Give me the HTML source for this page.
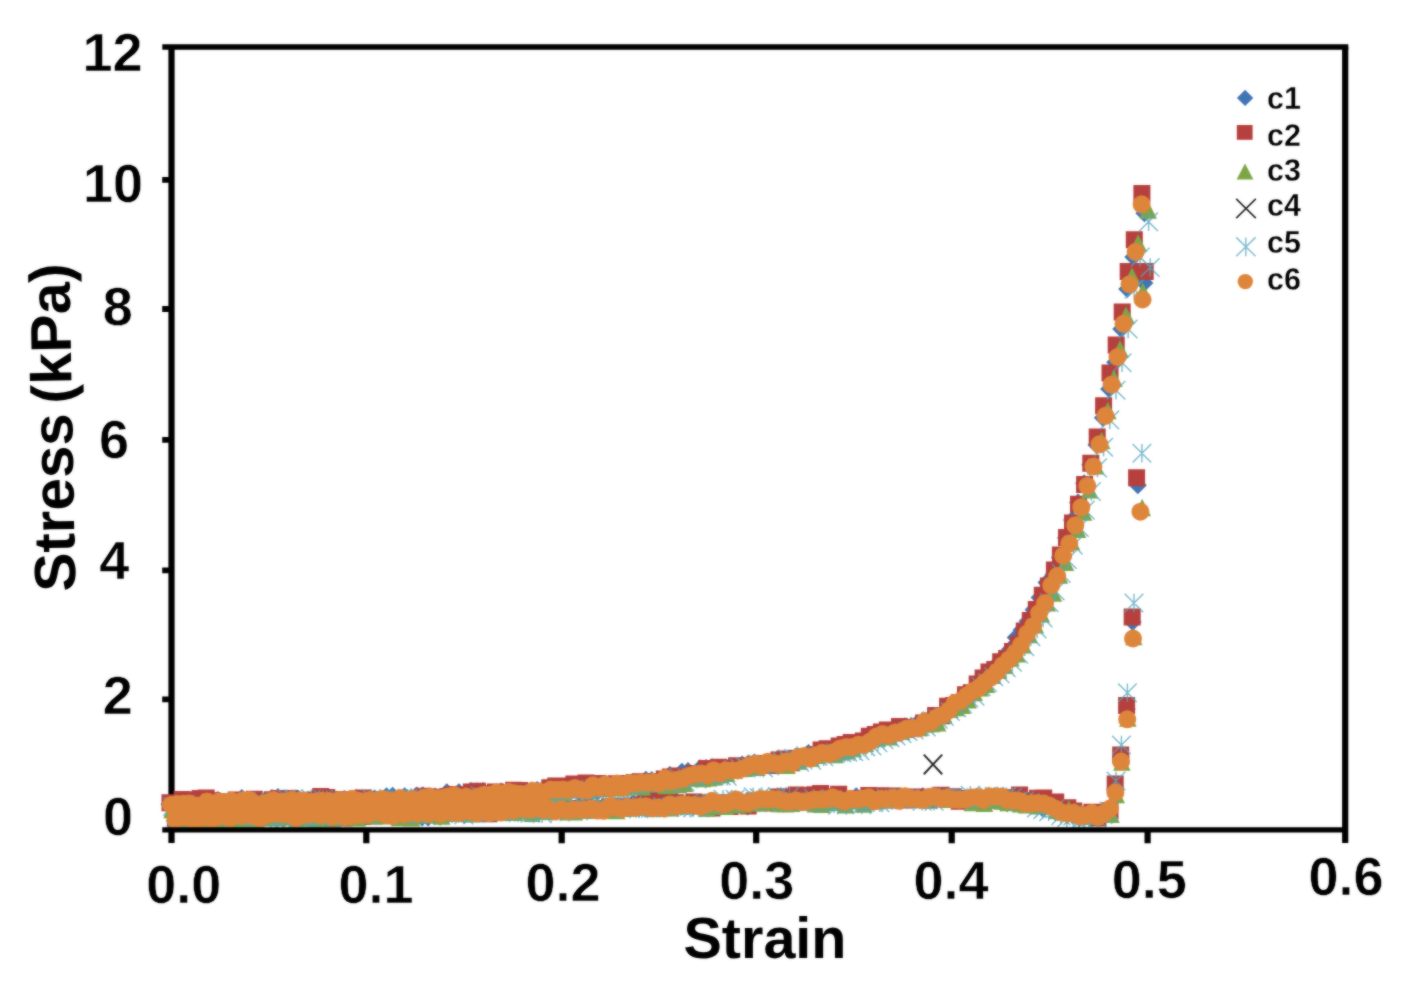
<!DOCTYPE html>
<html lang="en">
<head>
<meta charset="utf-8">
<title>Stress vs Strain</title>
<style>html,body{margin:0;padding:0;background:#fff}body{width:1403px;height:991px;overflow:hidden}svg{display:block}</style>
</head>
<body>
<svg width="1403" height="991" viewBox="0 0 1403 991">
<defs><filter id="soft" x="0" y="0" width="1403" height="991" filterUnits="userSpaceOnUse" color-interpolation-filters="sRGB"><feGaussianBlur in="SourceGraphic" stdDeviation="1" result="b"/><feComposite in="SourceGraphic" in2="b" operator="arithmetic" k1="0" k2="0.45" k3="0.55" k4="0"/></filter></defs>
<g filter="url(#soft)">
<rect width="1403" height="991" fill="#fff"/>
<g stroke="#000" fill="none" stroke-linecap="butt">
<path stroke-width="5.4" d="M162.3 47.0H1348.3"/>
<path stroke-width="6.2" d="M171.5 47.0V843M1345.2 47.0V843"/>
<path stroke-width="6.2" d="M366.3 829.9V843.3M561.7 829.9V843.3M756.2 829.9V843.3M951.7 829.9V843.3M1147.6 829.9V843.3"/>
<path stroke-width="5.800000000000001" d="M162.2 699.4H171.5M162.2 570.4H171.5M162.2 439.8H171.5M162.2 309.0H171.5M162.2 179.9H171.5"/>
</g>
<g>
<path fill="#4174b5" d="M169.5 795.2l9 9l-9 9l-9 -9zM175.5 797.7l9 9l-9 9l-9 -9zM181.6 794.3l9 9l-9 9l-9 -9zM187.6 796.4l9 9l-9 9l-9 -9zM193.6 797.5l9 9l-9 9l-9 -9zM199.6 798.3l9 9l-9 9l-9 -9zM205.7 795.1l9 9l-9 9l-9 -9zM211.7 797.4l9 9l-9 9l-9 -9zM217.7 791l9 9l-9 9l-9 -9zM223.8 793.4l9 9l-9 9l-9 -9zM229.8 793l9 9l-9 9l-9 -9zM235.8 793.9l9 9l-9 9l-9 -9zM241.8 789.1l9 9l-9 9l-9 -9zM247.9 793.2l9 9l-9 9l-9 -9zM253.9 792.4l9 9l-9 9l-9 -9zM259.9 793l9 9l-9 9l-9 -9zM266 793.2l9 9l-9 9l-9 -9zM272 789.1l9 9l-9 9l-9 -9zM278 788.1l9 9l-9 9l-9 -9zM284 794l9 9l-9 9l-9 -9zM290.1 790.1l9 9l-9 9l-9 -9zM296.1 792.4l9 9l-9 9l-9 -9zM302.1 792.1l9 9l-9 9l-9 -9zM308.2 793.6l9 9l-9 9l-9 -9zM314.2 788.9l9 9l-9 9l-9 -9zM320.2 794.1l9 9l-9 9l-9 -9zM326.2 792.4l9 9l-9 9l-9 -9zM332.3 794l9 9l-9 9l-9 -9zM338.3 792.2l9 9l-9 9l-9 -9zM344.3 790.1l9 9l-9 9l-9 -9zM350.4 790.9l9 9l-9 9l-9 -9zM356.4 789.1l9 9l-9 9l-9 -9zM362.4 789.7l9 9l-9 9l-9 -9zM368.4 790.7l9 9l-9 9l-9 -9zM374.5 789.5l9 9l-9 9l-9 -9zM380.5 791.9l9 9l-9 9l-9 -9zM386.5 787.3l9 9l-9 9l-9 -9zM392.6 786.8l9 9l-9 9l-9 -9zM398.6 789.9l9 9l-9 9l-9 -9zM404.6 787.2l9 9l-9 9l-9 -9zM410.6 789.4l9 9l-9 9l-9 -9zM416.7 786.5l9 9l-9 9l-9 -9zM422.7 786.3l9 9l-9 9l-9 -9zM428.7 787.3l9 9l-9 9l-9 -9zM434.8 787.6l9 9l-9 9l-9 -9zM440.8 787.7l9 9l-9 9l-9 -9zM446.8 783.3l9 9l-9 9l-9 -9zM452.8 786.4l9 9l-9 9l-9 -9zM458.9 783.2l9 9l-9 9l-9 -9zM464.9 784.7l9 9l-9 9l-9 -9zM470.9 782l9 9l-9 9l-9 -9zM477 782.3l9 9l-9 9l-9 -9zM483 782.1l9 9l-9 9l-9 -9zM489 786.9l9 9l-9 9l-9 -9zM495 785.4l9 9l-9 9l-9 -9zM501.1 782.6l9 9l-9 9l-9 -9zM507.1 783.1l9 9l-9 9l-9 -9zM513.1 784l9 9l-9 9l-9 -9zM519.2 783.1l9 9l-9 9l-9 -9zM525.2 786l9 9l-9 9l-9 -9zM531.2 781.6l9 9l-9 9l-9 -9zM537.2 780.9l9 9l-9 9l-9 -9zM543.3 785l9 9l-9 9l-9 -9zM549.3 785.1l9 9l-9 9l-9 -9zM555.3 783.4l9 9l-9 9l-9 -9zM561.4 783.6l9 9l-9 9l-9 -9zM567.4 780.6l9 9l-9 9l-9 -9zM573.4 781.1l9 9l-9 9l-9 -9zM579.4 783.5l9 9l-9 9l-9 -9zM585.5 781.2l9 9l-9 9l-9 -9zM591.5 779.8l9 9l-9 9l-9 -9zM597.5 782.7l9 9l-9 9l-9 -9zM603.6 779.8l9 9l-9 9l-9 -9zM609.6 777.4l9 9l-9 9l-9 -9zM615.6 776.7l9 9l-9 9l-9 -9zM621.6 778.8l9 9l-9 9l-9 -9zM627.7 779.1l9 9l-9 9l-9 -9zM633.7 773.3l9 9l-9 9l-9 -9zM639.7 772.9l9 9l-9 9l-9 -9zM645.8 770.7l9 9l-9 9l-9 -9zM651.8 771l9 9l-9 9l-9 -9zM657.8 771.8l9 9l-9 9l-9 -9zM663.8 770.2l9 9l-9 9l-9 -9zM669.9 766l9 9l-9 9l-9 -9zM675.9 768.3l9 9l-9 9l-9 -9zM681.9 762.8l9 9l-9 9l-9 -9zM688 761.9l9 9l-9 9l-9 -9zM694 765.3l9 9l-9 9l-9 -9zM700 759.2l9 9l-9 9l-9 -9zM706 758.9l9 9l-9 9l-9 -9zM712.1 758.3l9 9l-9 9l-9 -9zM718.1 760.1l9 9l-9 9l-9 -9zM724.1 759l9 9l-9 9l-9 -9zM730.2 757l9 9l-9 9l-9 -9zM736.2 760.3l9 9l-9 9l-9 -9zM742.2 755.6l9 9l-9 9l-9 -9zM748.2 758.2l9 9l-9 9l-9 -9zM754.3 753.6l9 9l-9 9l-9 -9zM760.3 757.9l9 9l-9 9l-9 -9zM766.3 755.6l9 9l-9 9l-9 -9zM772.4 754.2l9 9l-9 9l-9 -9zM778.4 753.4l9 9l-9 9l-9 -9zM784.4 750.8l9 9l-9 9l-9 -9zM790.4 749.3l9 9l-9 9l-9 -9zM796.5 751.9l9 9l-9 9l-9 -9zM802.5 747.8l9 9l-9 9l-9 -9zM808.5 744.1l9 9l-9 9l-9 -9zM814.6 748.1l9 9l-9 9l-9 -9zM820.6 743.8l9 9l-9 9l-9 -9zM826.6 740.4l9 9l-9 9l-9 -9zM832.6 741.8l9 9l-9 9l-9 -9zM838.7 736.2l9 9l-9 9l-9 -9zM844.7 736.1l9 9l-9 9l-9 -9zM850.7 735.6l9 9l-9 9l-9 -9zM856.8 735.3l9 9l-9 9l-9 -9zM862.8 731.5l9 9l-9 9l-9 -9zM868.8 726.2l9 9l-9 9l-9 -9zM874.8 728.9l9 9l-9 9l-9 -9zM880.9 722.9l9 9l-9 9l-9 -9zM886.9 724.4l9 9l-9 9l-9 -9zM892.9 722.3l9 9l-9 9l-9 -9zM899 719l9 9l-9 9l-9 -9zM905 717.2l9 9l-9 9l-9 -9zM911 717.4l9 9l-9 9l-9 -9zM917 714.5l9 9l-9 9l-9 -9zM923.1 713.5l9 9l-9 9l-9 -9zM929.1 713.9l9 9l-9 9l-9 -9zM935.1 707.3l9 9l-9 9l-9 -9zM941.2 707.9l9 9l-9 9l-9 -9zM947.1 698.8l9 9l-9 9l-9 -9zM953.1 699.4l9 9l-9 9l-9 -9zM959 693.3l9 9l-9 9l-9 -9zM965 684.4l9 9l-9 9l-9 -9zM970.8 682.3l9 9l-9 9l-9 -9zM976.7 677.4l9 9l-9 9l-9 -9zM982.6 671.2l9 9l-9 9l-9 -9zM988.5 666.9l9 9l-9 9l-9 -9zM994.3 659l9 9l-9 9l-9 -9zM1000.1 651.8l9 9l-9 9l-9 -9zM1005.2 648.3l9 9l-9 9l-9 -9zM1010.1 640.3l9 9l-9 9l-9 -9zM1015.7 628.5l9 9l-9 9l-9 -9zM1021.6 620.9l9 9l-9 9l-9 -9zM1027.6 612.3l9 9l-9 9l-9 -9zM1033.6 600.7l9 9l-9 9l-9 -9zM1039.6 588.5l9 9l-9 9l-9 -9zM1046.5 573.4l9 9l-9 9l-9 -9zM1053.7 565.3l9 9l-9 9l-9 -9zM1059.9 548.5l9 9l-9 9l-9 -9zM1066 528.7l9 9l-9 9l-9 -9zM1072 510.9l9 9l-9 9l-9 -9zM1078 493.5l9 9l-9 9l-9 -9zM1084.1 474.2l9 9l-9 9l-9 -9zM1090.2 455.7l9 9l-9 9l-9 -9zM1096.5 435.9l9 9l-9 9l-9 -9zM1102.8 408.8l9 9l-9 9l-9 -9zM1109.1 380l9 9l-9 9l-9 -9zM1115.2 353.2l9 9l-9 9l-9 -9zM1121.2 320.1l9 9l-9 9l-9 -9zM1127.2 279.9l9 9l-9 9l-9 -9zM1133.3 248l9 9l-9 9l-9 -9zM1144.4 204.2l9 9l-9 9l-9 -9zM1144.4 274l9 9l-9 9l-9 -9zM1137.8 476.3l9 9l-9 9l-9 -9zM1132.6 613l9 9l-9 9l-9 -9zM1126.8 700l9 9l-9 9l-9 -9zM1120.9 748l9 9l-9 9l-9 -9zM1115.2 780l9 9l-9 9l-9 -9zM1109.5 798.7l9 9l-9 9l-9 -9zM1103.5 806l9 9l-9 9l-9 -9zM1097.4 807.8l9 9l-9 9l-9 -9zM1091.4 803.9l9 9l-9 9l-9 -9zM1085.4 805.9l9 9l-9 9l-9 -9zM1079.4 809.2l9 9l-9 9l-9 -9zM1073.3 802.8l9 9l-9 9l-9 -9zM1067.3 805.7l9 9l-9 9l-9 -9zM1061.3 803.5l9 9l-9 9l-9 -9zM1055.2 803l9 9l-9 9l-9 -9zM1049.2 795.7l9 9l-9 9l-9 -9zM1043.2 799.9l9 9l-9 9l-9 -9zM1037.1 793.6l9 9l-9 9l-9 -9zM1031.1 796.5l9 9l-9 9l-9 -9zM1025.1 794.9l9 9l-9 9l-9 -9zM1019.1 792l9 9l-9 9l-9 -9zM1013 789.8l9 9l-9 9l-9 -9zM1007 794.3l9 9l-9 9l-9 -9zM1001 793.4l9 9l-9 9l-9 -9zM994.9 789.8l9 9l-9 9l-9 -9zM988.9 792.3l9 9l-9 9l-9 -9zM982.9 792.8l9 9l-9 9l-9 -9zM976.8 790l9 9l-9 9l-9 -9zM970.8 791.8l9 9l-9 9l-9 -9zM964.8 789.6l9 9l-9 9l-9 -9zM958.8 789.1l9 9l-9 9l-9 -9zM952.7 788.6l9 9l-9 9l-9 -9zM946.7 787.1l9 9l-9 9l-9 -9zM940.7 788.7l9 9l-9 9l-9 -9zM934.6 787l9 9l-9 9l-9 -9zM928.6 788.3l9 9l-9 9l-9 -9zM922.6 787.2l9 9l-9 9l-9 -9zM916.5 790.3l9 9l-9 9l-9 -9zM910.5 790.3l9 9l-9 9l-9 -9zM904.5 788.8l9 9l-9 9l-9 -9zM898.5 788.4l9 9l-9 9l-9 -9zM892.4 787.9l9 9l-9 9l-9 -9zM886.4 787.5l9 9l-9 9l-9 -9zM880.4 790.4l9 9l-9 9l-9 -9zM874.3 788.1l9 9l-9 9l-9 -9zM868.3 788.2l9 9l-9 9l-9 -9zM862.3 787.9l9 9l-9 9l-9 -9zM856.2 787.3l9 9l-9 9l-9 -9zM850.2 792.9l9 9l-9 9l-9 -9zM844.2 787.7l9 9l-9 9l-9 -9zM838.2 790.8l9 9l-9 9l-9 -9zM832.1 788.4l9 9l-9 9l-9 -9zM826.1 792l9 9l-9 9l-9 -9zM820.1 789.3l9 9l-9 9l-9 -9zM814 791.3l9 9l-9 9l-9 -9zM808 792.1l9 9l-9 9l-9 -9zM802 793.6l9 9l-9 9l-9 -9zM795.9 792.6l9 9l-9 9l-9 -9zM789.9 792.7l9 9l-9 9l-9 -9zM783.9 794.8l9 9l-9 9l-9 -9zM777.9 791.5l9 9l-9 9l-9 -9zM771.8 791.8l9 9l-9 9l-9 -9zM765.8 793.9l9 9l-9 9l-9 -9zM759.8 793.9l9 9l-9 9l-9 -9zM753.7 793.6l9 9l-9 9l-9 -9zM747.7 797.6l9 9l-9 9l-9 -9zM741.7 793.3l9 9l-9 9l-9 -9zM735.6 792.9l9 9l-9 9l-9 -9zM729.6 796.1l9 9l-9 9l-9 -9zM723.6 797.1l9 9l-9 9l-9 -9zM717.6 796.3l9 9l-9 9l-9 -9zM711.5 796.8l9 9l-9 9l-9 -9zM705.5 795.9l9 9l-9 9l-9 -9zM699.5 798.1l9 9l-9 9l-9 -9zM693.4 797.8l9 9l-9 9l-9 -9zM687.4 796.9l9 9l-9 9l-9 -9zM681.4 797.5l9 9l-9 9l-9 -9zM675.3 795l9 9l-9 9l-9 -9zM669.3 795.2l9 9l-9 9l-9 -9zM663.3 797.2l9 9l-9 9l-9 -9zM657.3 794.2l9 9l-9 9l-9 -9zM651.2 794.5l9 9l-9 9l-9 -9zM645.2 796.6l9 9l-9 9l-9 -9zM639.2 799.3l9 9l-9 9l-9 -9zM633.1 794.3l9 9l-9 9l-9 -9zM627.1 797.1l9 9l-9 9l-9 -9zM621.1 798.3l9 9l-9 9l-9 -9zM615 799l9 9l-9 9l-9 -9zM609 799.2l9 9l-9 9l-9 -9zM603 797.8l9 9l-9 9l-9 -9zM597 799.3l9 9l-9 9l-9 -9zM590.9 796.6l9 9l-9 9l-9 -9zM584.9 796.9l9 9l-9 9l-9 -9zM578.9 799.4l9 9l-9 9l-9 -9zM572.8 802l9 9l-9 9l-9 -9zM566.8 797.9l9 9l-9 9l-9 -9zM560.8 801.6l9 9l-9 9l-9 -9zM554.7 798.3l9 9l-9 9l-9 -9zM548.7 799.8l9 9l-9 9l-9 -9zM542.7 797.4l9 9l-9 9l-9 -9zM536.7 801.2l9 9l-9 9l-9 -9zM530.6 797.1l9 9l-9 9l-9 -9zM524.6 800.9l9 9l-9 9l-9 -9zM518.6 800.7l9 9l-9 9l-9 -9zM512.5 798.7l9 9l-9 9l-9 -9zM506.5 802.4l9 9l-9 9l-9 -9zM500.5 802.6l9 9l-9 9l-9 -9zM494.4 803l9 9l-9 9l-9 -9zM488.4 802.3l9 9l-9 9l-9 -9zM482.4 801.6l9 9l-9 9l-9 -9zM476.4 799.9l9 9l-9 9l-9 -9zM470.3 804.4l9 9l-9 9l-9 -9zM464.3 806.1l9 9l-9 9l-9 -9zM458.3 804.8l9 9l-9 9l-9 -9zM452.2 805l9 9l-9 9l-9 -9zM446.2 806.7l9 9l-9 9l-9 -9zM440.2 807.8l9 9l-9 9l-9 -9zM434.1 807l9 9l-9 9l-9 -9zM428.1 808.4l9 9l-9 9l-9 -9zM422.1 808.4l9 9l-9 9l-9 -9zM416.1 807.2l9 9l-9 9l-9 -9zM410 807.9l9 9l-9 9l-9 -9zM404 805.6l9 9l-9 9l-9 -9zM398 802.9l9 9l-9 9l-9 -9zM391.9 807.3l9 9l-9 9l-9 -9zM385.9 802.9l9 9l-9 9l-9 -9zM379.9 803.2l9 9l-9 9l-9 -9zM373.8 805.8l9 9l-9 9l-9 -9zM367.8 806.2l9 9l-9 9l-9 -9zM361.8 807.9l9 9l-9 9l-9 -9zM355.8 804l9 9l-9 9l-9 -9zM349.7 803.8l9 9l-9 9l-9 -9zM343.7 802.5l9 9l-9 9l-9 -9zM337.7 806.1l9 9l-9 9l-9 -9zM331.6 808.5l9 9l-9 9l-9 -9zM325.6 806.8l9 9l-9 9l-9 -9zM319.6 804.5l9 9l-9 9l-9 -9zM313.5 805.8l9 9l-9 9l-9 -9zM307.5 808.7l9 9l-9 9l-9 -9zM301.5 808.7l9 9l-9 9l-9 -9zM295.5 809.5l9 9l-9 9l-9 -9zM289.4 807.3l9 9l-9 9l-9 -9zM283.4 809.4l9 9l-9 9l-9 -9zM277.4 809l9 9l-9 9l-9 -9zM271.3 805.8l9 9l-9 9l-9 -9zM265.3 807.4l9 9l-9 9l-9 -9zM259.3 809.3l9 9l-9 9l-9 -9zM253.2 807.7l9 9l-9 9l-9 -9zM247.2 806.4l9 9l-9 9l-9 -9zM241.2 808.3l9 9l-9 9l-9 -9zM235.2 808.2l9 9l-9 9l-9 -9zM229.1 809.7l9 9l-9 9l-9 -9zM223.1 806l9 9l-9 9l-9 -9zM217.1 805.7l9 9l-9 9l-9 -9zM211 809.7l9 9l-9 9l-9 -9zM205 807.8l9 9l-9 9l-9 -9zM199 808.8l9 9l-9 9l-9 -9zM192.9 808.2l9 9l-9 9l-9 -9zM186.9 811l9 9l-9 9l-9 -9zM180.9 807.3l9 9l-9 9l-9 -9zM174.9 812.3l9 9l-9 9l-9 -9z"/>
<path fill="#b5403e" d="M161.5 794.3h17v17h-17zM167.5 796.6h17v17h-17zM173.6 790.9h17v17h-17zM179.6 791.4h17v17h-17zM185.6 795.5h17v17h-17zM191.6 790h17v17h-17zM197.7 789.5h17v17h-17zM203.7 792.2h17v17h-17zM209.7 794.1h17v17h-17zM215.8 793.2h17v17h-17zM221.8 793.9h17v17h-17zM227.8 791.6h17v17h-17zM233.8 792.2h17v17h-17zM239.9 794.9h17v17h-17zM245.9 790.7h17v17h-17zM251.9 793h17v17h-17zM258 795.7h17v17h-17zM264 791.2h17v17h-17zM270 790h17v17h-17zM276 792.6h17v17h-17zM282.1 789.9h17v17h-17zM288.1 793.4h17v17h-17zM294.1 792.5h17v17h-17zM300.2 793.7h17v17h-17zM306.2 791.4h17v17h-17zM312.2 788.1h17v17h-17zM318.2 788.9h17v17h-17zM324.3 791h17v17h-17zM330.3 791.1h17v17h-17zM336.3 792.9h17v17h-17zM342.4 792.7h17v17h-17zM348.4 790.9h17v17h-17zM354.4 789.5h17v17h-17zM360.4 791h17v17h-17zM366.5 792.1h17v17h-17zM372.5 793.1h17v17h-17zM378.5 793.6h17v17h-17zM384.6 791.7h17v17h-17zM390.6 794.7h17v17h-17zM396.6 793.5h17v17h-17zM402.6 791.6h17v17h-17zM408.7 790.6h17v17h-17zM414.7 787.8h17v17h-17zM420.7 788.5h17v17h-17zM426.8 789.2h17v17h-17zM432.8 789.5h17v17h-17zM438.8 788.2h17v17h-17zM444.8 786.1h17v17h-17zM450.9 786.5h17v17h-17zM456.9 787.2h17v17h-17zM462.9 783.4h17v17h-17zM469 782.8h17v17h-17zM475 785.7h17v17h-17zM481 785.3h17v17h-17zM487 783.6h17v17h-17zM493.1 785.1h17v17h-17zM499.1 785.4h17v17h-17zM505.1 781.8h17v17h-17zM511.2 782h17v17h-17zM517.2 784.2h17v17h-17zM523.2 783.8h17v17h-17zM529.2 783.8h17v17h-17zM535.3 783.9h17v17h-17zM541.3 779.2h17v17h-17zM547.3 777.5h17v17h-17zM553.4 779.9h17v17h-17zM559.4 777.6h17v17h-17zM565.4 775.5h17v17h-17zM571.4 780.4h17v17h-17zM577.5 774.5h17v17h-17zM583.5 778.2h17v17h-17zM589.5 775h17v17h-17zM595.6 779.6h17v17h-17zM601.6 777.1h17v17h-17zM607.6 775.2h17v17h-17zM613.6 775.8h17v17h-17zM619.7 775h17v17h-17zM625.7 774.1h17v17h-17zM631.7 773.2h17v17h-17zM637.8 773.4h17v17h-17zM643.8 772.9h17v17h-17zM649.8 774h17v17h-17zM655.8 770.5h17v17h-17zM661.9 768.5h17v17h-17zM667.9 767.5h17v17h-17zM673.9 768.4h17v17h-17zM680 767.5h17v17h-17zM686 765h17v17h-17zM692 765.4h17v17h-17zM698 760.1h17v17h-17zM704.1 763.4h17v17h-17zM710.1 758.7h17v17h-17zM716.1 760.3h17v17h-17zM722.2 760.6h17v17h-17zM728.2 757.2h17v17h-17zM734.2 757.4h17v17h-17zM740.2 758.4h17v17h-17zM746.3 755.7h17v17h-17zM752.3 756.2h17v17h-17zM758.3 755h17v17h-17zM764.4 757.1h17v17h-17zM770.4 751.6h17v17h-17zM776.4 750.4h17v17h-17zM782.4 754.3h17v17h-17zM788.5 750h17v17h-17zM794.5 748.2h17v17h-17zM800.5 749.2h17v17h-17zM806.6 746.3h17v17h-17zM812.6 741.4h17v17h-17zM818.6 740.3h17v17h-17zM824.6 742.5h17v17h-17zM830.7 737.6h17v17h-17zM836.7 736h17v17h-17zM842.7 733.9h17v17h-17zM848.8 735.5h17v17h-17zM854.8 732.5h17v17h-17zM860.8 727.7h17v17h-17zM866.8 726.1h17v17h-17zM872.9 723.5h17v17h-17zM878.9 721.4h17v17h-17zM884.9 724.4h17v17h-17zM891 718.1h17v17h-17zM897 720.8h17v17h-17zM903 719.3h17v17h-17zM909 718.8h17v17h-17zM915.1 714.5h17v17h-17zM921.1 712.6h17v17h-17zM927.1 707.1h17v17h-17zM933.2 707.3h17v17h-17zM939.1 697.8h17v17h-17zM945.1 697h17v17h-17zM951 694.1h17v17h-17zM957 686.3h17v17h-17zM962.8 684.3h17v17h-17zM968.7 675.5h17v17h-17zM974.6 669.5h17v17h-17zM980.5 663.5h17v17h-17zM986.3 660.9h17v17h-17zM992.2 653.2h17v17h-17zM998.1 649.9h17v17h-17zM1004 643.1h17v17h-17zM1009.9 635.4h17v17h-17zM1015.8 622.4h17v17h-17zM1021.8 612.1h17v17h-17zM1027.8 601.1h17v17h-17zM1033.8 586.7h17v17h-17zM1039.9 577.6h17v17h-17zM1045.9 561.4h17v17h-17zM1051.9 546.4h17v17h-17zM1058 528.9h17v17h-17zM1064 514.5h17v17h-17zM1070 495.7h17v17h-17zM1076.1 475.9h17v17h-17zM1082.3 454.8h17v17h-17zM1088.7 428.6h17v17h-17zM1095.1 397.3h17v17h-17zM1101.5 364.5h17v17h-17zM1107.7 336.5h17v17h-17zM1113.7 303.6h17v17h-17zM1119.7 263.1h17v17h-17zM1125.8 231.3h17v17h-17zM1133.4 184.9h17v17h-17zM1136.7 263.1h17v17h-17zM1128.1 469.3h17v17h-17zM1123.7 608.5h17v17h-17zM1118.1 697h17v17h-17zM1112.2 746.5h17v17h-17zM1106.7 775.5h17v17h-17zM1101.5 802.2h17v17h-17zM1095.5 804.1h17v17h-17zM1089.4 809.5h17v17h-17zM1083.4 803.7h17v17h-17zM1077.4 807.7h17v17h-17zM1071.4 806.6h17v17h-17zM1065.3 802.5h17v17h-17zM1059.3 799.3h17v17h-17zM1053.3 799.9h17v17h-17zM1047.2 793.6h17v17h-17zM1041.2 793.7h17v17h-17zM1035.2 789.4h17v17h-17zM1029.1 789.7h17v17h-17zM1023.1 793h17v17h-17zM1017.1 792.2h17v17h-17zM1011.1 786.4h17v17h-17zM1005 789.5h17v17h-17zM999 789.3h17v17h-17zM993 788.9h17v17h-17zM986.9 788.4h17v17h-17zM980.9 790.7h17v17h-17zM974.9 793.1h17v17h-17zM968.8 792.6h17v17h-17zM962.8 790.1h17v17h-17zM956.8 790.1h17v17h-17zM950.8 792.8h17v17h-17zM944.7 788.2h17v17h-17zM938.7 790.8h17v17h-17zM932.7 786.7h17v17h-17zM926.6 788.6h17v17h-17zM920.6 791.6h17v17h-17zM914.6 789.8h17v17h-17zM908.5 788.6h17v17h-17zM902.5 790.9h17v17h-17zM896.5 791.4h17v17h-17zM890.5 789.3h17v17h-17zM884.4 787.6h17v17h-17zM878.4 791.5h17v17h-17zM872.4 787.2h17v17h-17zM866.3 791.4h17v17h-17zM860.3 786.9h17v17h-17zM854.3 791.7h17v17h-17zM848.2 790.3h17v17h-17zM842.2 791.8h17v17h-17zM836.2 790.9h17v17h-17zM830.2 785.7h17v17h-17zM824.1 789.2h17v17h-17zM818.1 788.2h17v17h-17zM812.1 784.9h17v17h-17zM806 786.3h17v17h-17zM800 787.3h17v17h-17zM794 788h17v17h-17zM787.9 786.6h17v17h-17zM781.9 788.5h17v17h-17zM775.9 788.3h17v17h-17zM769.9 788.6h17v17h-17zM763.8 794.4h17v17h-17zM757.8 792.9h17v17h-17zM751.8 792.6h17v17h-17zM745.7 792.4h17v17h-17zM739.7 797.4h17v17h-17zM733.7 794.8h17v17h-17zM727.6 795.2h17v17h-17zM721.6 798h17v17h-17zM715.6 794.3h17v17h-17zM709.6 795.3h17v17h-17zM703.5 799.4h17v17h-17zM697.5 796.7h17v17h-17zM691.5 794.2h17v17h-17zM685.4 793.4h17v17h-17zM679.4 795.9h17v17h-17zM673.4 796.6h17v17h-17zM667.3 794.3h17v17h-17zM661.3 793.3h17v17h-17zM655.3 794.2h17v17h-17zM649.3 790.6h17v17h-17zM643.2 794.1h17v17h-17zM637.2 793.2h17v17h-17zM631.2 796.3h17v17h-17zM625.1 798.2h17v17h-17zM619.1 799.1h17v17h-17zM613.1 797.8h17v17h-17zM607 800.6h17v17h-17zM601 798.4h17v17h-17zM595 800.7h17v17h-17zM589 800.3h17v17h-17zM582.9 800.9h17v17h-17zM576.9 801.7h17v17h-17zM570.9 800.1h17v17h-17zM564.8 800h17v17h-17zM558.8 801.7h17v17h-17zM552.8 799.5h17v17h-17zM546.7 798.9h17v17h-17zM540.7 801.8h17v17h-17zM534.7 801.2h17v17h-17zM528.7 797.3h17v17h-17zM522.6 799.9h17v17h-17zM516.6 798.9h17v17h-17zM510.6 799.1h17v17h-17zM504.5 802.4h17v17h-17zM498.5 803h17v17h-17zM492.5 800.5h17v17h-17zM486.4 800.9h17v17h-17zM480.4 805.2h17v17h-17zM474.4 801.5h17v17h-17zM468.4 801.6h17v17h-17zM462.3 803.9h17v17h-17zM456.3 802.2h17v17h-17zM450.3 803.9h17v17h-17zM444.2 802.2h17v17h-17zM438.2 802.8h17v17h-17zM432.2 802.5h17v17h-17zM426.1 801.6h17v17h-17zM420.1 800.2h17v17h-17zM414.1 799.9h17v17h-17zM408.1 801.3h17v17h-17zM402 802.2h17v17h-17zM396 799.1h17v17h-17zM390 799.8h17v17h-17zM383.9 804h17v17h-17zM377.9 803.2h17v17h-17zM371.9 801.7h17v17h-17zM365.8 807.6h17v17h-17zM359.8 803.7h17v17h-17zM353.8 808.1h17v17h-17zM347.8 805.1h17v17h-17zM341.7 808.2h17v17h-17zM335.7 809.6h17v17h-17zM329.7 808.3h17v17h-17zM323.6 810.6h17v17h-17zM317.6 806.7h17v17h-17zM311.6 808.5h17v17h-17zM305.5 807.8h17v17h-17zM299.5 804.9h17v17h-17zM293.5 804.6h17v17h-17zM287.5 804.8h17v17h-17zM281.4 806.6h17v17h-17zM275.4 807.9h17v17h-17zM269.4 805.8h17v17h-17zM263.3 806.7h17v17h-17zM257.3 806.6h17v17h-17zM251.3 806.7h17v17h-17zM245.2 805.2h17v17h-17zM239.2 806.5h17v17h-17zM233.2 803.5h17v17h-17zM227.2 804h17v17h-17zM221.1 807.4h17v17h-17zM215.1 806h17v17h-17zM209.1 810.7h17v17h-17zM203 810.4h17v17h-17zM197 809.9h17v17h-17zM191 805.9h17v17h-17zM184.9 808h17v17h-17zM178.9 805.9h17v17h-17zM172.9 808.5h17v17h-17zM166.9 809.8h17v17h-17z"/>
<path fill="#7da546" d="M172 800.8l8.8 17.5h-17.5zM178 798.2l8.8 17.5h-17.5zM184.1 796.8l8.8 17.5h-17.5zM190.1 798.7l8.8 17.5h-17.5zM196.1 798.2l8.8 17.5h-17.5zM202.1 793l8.8 17.5h-17.5zM208.2 794.9l8.8 17.5h-17.5zM214.2 797.1l8.8 17.5h-17.5zM220.2 795.4l8.8 17.5h-17.5zM226.3 795.1l8.8 17.5h-17.5zM232.3 793.1l8.8 17.5h-17.5zM238.3 796.6l8.8 17.5h-17.5zM244.3 795.1l8.8 17.5h-17.5zM250.4 796.3l8.8 17.5h-17.5zM256.4 796l8.8 17.5h-17.5zM262.4 792.1l8.8 17.5h-17.5zM268.5 792.7l8.8 17.5h-17.5zM274.5 794.8l8.8 17.5h-17.5zM280.5 796.6l8.8 17.5h-17.5zM286.5 797.4l8.8 17.5h-17.5zM292.6 794.5l8.8 17.5h-17.5zM298.6 798.3l8.8 17.5h-17.5zM304.6 796l8.8 17.5h-17.5zM310.7 792.5l8.8 17.5h-17.5zM316.7 792.6l8.8 17.5h-17.5zM322.7 796.4l8.8 17.5h-17.5zM328.7 792l8.8 17.5h-17.5zM334.8 793.4l8.8 17.5h-17.5zM340.8 792.9l8.8 17.5h-17.5zM346.8 795.8l8.8 17.5h-17.5zM352.9 792.6l8.8 17.5h-17.5zM358.9 791.9l8.8 17.5h-17.5zM364.9 790.7l8.8 17.5h-17.5zM370.9 795.2l8.8 17.5h-17.5zM377 791.3l8.8 17.5h-17.5zM383 794.6l8.8 17.5h-17.5zM389 789.9l8.8 17.5h-17.5zM395.1 794.3l8.8 17.5h-17.5zM401.1 790l8.8 17.5h-17.5zM407.1 793.2l8.8 17.5h-17.5zM413.1 792.2l8.8 17.5h-17.5zM419.2 792.8l8.8 17.5h-17.5zM425.2 790.9l8.8 17.5h-17.5zM431.2 788.3l8.8 17.5h-17.5zM437.3 793l8.8 17.5h-17.5zM443.3 793.2l8.8 17.5h-17.5zM449.3 789l8.8 17.5h-17.5zM455.3 792.7l8.8 17.5h-17.5zM461.4 788.1l8.8 17.5h-17.5zM467.4 788.9l8.8 17.5h-17.5zM473.4 789.5l8.8 17.5h-17.5zM479.5 790.2l8.8 17.5h-17.5zM485.5 789.6l8.8 17.5h-17.5zM491.5 790.9l8.8 17.5h-17.5zM497.5 788.5l8.8 17.5h-17.5zM503.6 791.4l8.8 17.5h-17.5zM509.6 790.9l8.8 17.5h-17.5zM515.6 787.3l8.8 17.5h-17.5zM521.7 785.2l8.8 17.5h-17.5zM527.7 787.6l8.8 17.5h-17.5zM533.7 784.6l8.8 17.5h-17.5zM539.7 784.1l8.8 17.5h-17.5zM545.8 786.3l8.8 17.5h-17.5zM551.8 782.4l8.8 17.5h-17.5zM557.8 786.4l8.8 17.5h-17.5zM563.9 783.6l8.8 17.5h-17.5zM569.9 780.6l8.8 17.5h-17.5zM575.9 780.5l8.8 17.5h-17.5zM581.9 780.3l8.8 17.5h-17.5zM588 781.6l8.8 17.5h-17.5zM594 777.9l8.8 17.5h-17.5zM600 776.6l8.8 17.5h-17.5zM606.1 779.5l8.8 17.5h-17.5zM612.1 778.9l8.8 17.5h-17.5zM618.1 778.3l8.8 17.5h-17.5zM624.1 778.2l8.8 17.5h-17.5zM630.2 774.4l8.8 17.5h-17.5zM636.2 776.4l8.8 17.5h-17.5zM642.2 777.9l8.8 17.5h-17.5zM648.3 774.6l8.8 17.5h-17.5zM654.3 775.1l8.8 17.5h-17.5zM660.3 772.4l8.8 17.5h-17.5zM666.3 776.8l8.8 17.5h-17.5zM672.4 775.6l8.8 17.5h-17.5zM678.4 775.7l8.8 17.5h-17.5zM684.4 774.5l8.8 17.5h-17.5zM690.5 769.2l8.8 17.5h-17.5zM696.5 769l8.8 17.5h-17.5zM702.5 769.7l8.8 17.5h-17.5zM708.5 769.1l8.8 17.5h-17.5zM714.6 767.9l8.8 17.5h-17.5zM720.6 765.8l8.8 17.5h-17.5zM726.6 764.4l8.8 17.5h-17.5zM732.7 760.7l8.8 17.5h-17.5zM738.7 759.7l8.8 17.5h-17.5zM744.7 759.4l8.8 17.5h-17.5zM750.7 756.9l8.8 17.5h-17.5zM756.8 758.4l8.8 17.5h-17.5zM762.8 754.8l8.8 17.5h-17.5zM768.8 755.3l8.8 17.5h-17.5zM774.9 754.2l8.8 17.5h-17.5zM780.9 751.9l8.8 17.5h-17.5zM786.9 756.4l8.8 17.5h-17.5zM792.9 752.3l8.8 17.5h-17.5zM799 752.3l8.8 17.5h-17.5zM805 748.6l8.8 17.5h-17.5zM811 749.2l8.8 17.5h-17.5zM817.1 746.5l8.8 17.5h-17.5zM823.1 744.7l8.8 17.5h-17.5zM829.1 743.4l8.8 17.5h-17.5zM835.1 745.8l8.8 17.5h-17.5zM841.2 742.7l8.8 17.5h-17.5zM847.2 741.7l8.8 17.5h-17.5zM853.2 739.8l8.8 17.5h-17.5zM859.3 736.1l8.8 17.5h-17.5zM865.3 734.6l8.8 17.5h-17.5zM871.3 730l8.8 17.5h-17.5zM877.3 729.3l8.8 17.5h-17.5zM883.4 727.5l8.8 17.5h-17.5zM889.4 728l8.8 17.5h-17.5zM895.4 722.5l8.8 17.5h-17.5zM901.5 722.4l8.8 17.5h-17.5zM907.5 719.6l8.8 17.5h-17.5zM913.5 718.9l8.8 17.5h-17.5zM919.5 718.7l8.8 17.5h-17.5zM925.6 715.2l8.8 17.5h-17.5zM931.6 714.7l8.8 17.5h-17.5zM937.6 714.1l8.8 17.5h-17.5zM943.7 705.7l8.8 17.5h-17.5zM949.7 700.6l8.8 17.5h-17.5zM955.8 698.7l8.8 17.5h-17.5zM961.9 696.5l8.8 17.5h-17.5zM968 691.1l8.8 17.5h-17.5zM974.1 683.5l8.8 17.5h-17.5zM980.2 679l8.8 17.5h-17.5zM986.4 675.4l8.8 17.5h-17.5zM992.5 666.6l8.8 17.5h-17.5zM998.6 661.5l8.8 17.5h-17.5zM1004.8 656.6l8.8 17.5h-17.5zM1010.9 649.1l8.8 17.5h-17.5zM1017 644.9l8.8 17.5h-17.5zM1023.1 635.9l8.8 17.5h-17.5zM1029.2 625.7l8.8 17.5h-17.5zM1035.3 615.9l8.8 17.5h-17.5zM1041.3 605.1l8.8 17.5h-17.5zM1047.3 593.9l8.8 17.5h-17.5zM1053.4 584.3l8.8 17.5h-17.5zM1059.4 566.2l8.8 17.5h-17.5zM1065.4 553.4l8.8 17.5h-17.5zM1071.5 532.8l8.8 17.5h-17.5zM1077.5 520.5l8.8 17.5h-17.5zM1083.5 503.2l8.8 17.5h-17.5zM1089.5 481l8.8 17.5h-17.5zM1095.6 456.9l8.8 17.5h-17.5zM1101.7 431.7l8.8 17.5h-17.5zM1107.8 401.8l8.8 17.5h-17.5zM1113.9 369.6l8.8 17.5h-17.5zM1120 340.3l8.8 17.5h-17.5zM1126 306.6l8.8 17.5h-17.5zM1132 267.2l8.8 17.5h-17.5zM1138.1 234.2l8.8 17.5h-17.5zM1148.1 201.2l8.8 17.5h-17.5zM1142.9 282.8l8.8 17.5h-17.5zM1142.2 498.8l8.8 17.5h-17.5zM1133.8 627.8l8.8 17.5h-17.5zM1127.8 709.2l8.8 17.5h-17.5zM1121.8 753.2l8.8 17.5h-17.5zM1116.2 785.8l8.8 17.5h-17.5zM1111 805.4l8.8 17.5h-17.5zM1105 803.9l8.8 17.5h-17.5zM1098.9 805.2l8.8 17.5h-17.5zM1092.9 804.9l8.8 17.5h-17.5zM1086.9 807.3l8.8 17.5h-17.5zM1080.9 804.8l8.8 17.5h-17.5zM1074.8 802.4l8.8 17.5h-17.5zM1068.8 800.2l8.8 17.5h-17.5zM1062.8 802.5l8.8 17.5h-17.5zM1056.7 801.5l8.8 17.5h-17.5zM1050.7 796.1l8.8 17.5h-17.5zM1044.7 793.9l8.8 17.5h-17.5zM1038.6 797.1l8.8 17.5h-17.5zM1032.6 795.5l8.8 17.5h-17.5zM1026.6 795.9l8.8 17.5h-17.5zM1020.6 794.9l8.8 17.5h-17.5zM1014.5 792.7l8.8 17.5h-17.5zM1008.5 793.7l8.8 17.5h-17.5zM1002.5 792.3l8.8 17.5h-17.5zM996.4 791.1l8.8 17.5h-17.5zM990.4 791.7l8.8 17.5h-17.5zM984.4 794.4l8.8 17.5h-17.5zM978.3 792.8l8.8 17.5h-17.5zM972.3 793.7l8.8 17.5h-17.5zM966.3 790.2l8.8 17.5h-17.5zM960.3 789.4l8.8 17.5h-17.5zM954.2 790.3l8.8 17.5h-17.5zM948.2 790.6l8.8 17.5h-17.5zM942.2 789.7l8.8 17.5h-17.5zM936.1 789.2l8.8 17.5h-17.5zM930.1 788.8l8.8 17.5h-17.5zM924.1 790.8l8.8 17.5h-17.5zM918 790l8.8 17.5h-17.5zM912 789.9l8.8 17.5h-17.5zM906 788.1l8.8 17.5h-17.5zM900 787.2l8.8 17.5h-17.5zM893.9 788.9l8.8 17.5h-17.5zM887.9 790.8l8.8 17.5h-17.5zM881.9 788.7l8.8 17.5h-17.5zM875.8 791.9l8.8 17.5h-17.5zM869.8 788.9l8.8 17.5h-17.5zM863.8 795.2l8.8 17.5h-17.5zM857.7 791.9l8.8 17.5h-17.5zM851.7 791.9l8.8 17.5h-17.5zM845.7 796.1l8.8 17.5h-17.5zM839.7 793.6l8.8 17.5h-17.5zM833.6 793.4l8.8 17.5h-17.5zM827.6 792l8.8 17.5h-17.5zM821.6 795.5l8.8 17.5h-17.5zM815.5 795.1l8.8 17.5h-17.5zM809.5 793.3l8.8 17.5h-17.5zM803.5 792.8l8.8 17.5h-17.5zM797.4 790.9l8.8 17.5h-17.5zM791.4 794.6l8.8 17.5h-17.5zM785.4 795l8.8 17.5h-17.5zM779.4 794.8l8.8 17.5h-17.5zM773.3 792.6l8.8 17.5h-17.5zM767.3 792.7l8.8 17.5h-17.5zM761.3 793.4l8.8 17.5h-17.5zM755.2 794.3l8.8 17.5h-17.5zM749.2 794.1l8.8 17.5h-17.5zM743.2 795.2l8.8 17.5h-17.5zM737.1 796l8.8 17.5h-17.5zM731.1 793.6l8.8 17.5h-17.5zM725.1 797.5l8.8 17.5h-17.5zM719.1 796.5l8.8 17.5h-17.5zM713 797.3l8.8 17.5h-17.5zM707 799.3l8.8 17.5h-17.5zM701 796l8.8 17.5h-17.5zM694.9 794.7l8.8 17.5h-17.5zM688.9 794.8l8.8 17.5h-17.5zM682.9 797.1l8.8 17.5h-17.5zM676.8 795.6l8.8 17.5h-17.5zM670.8 799.1l8.8 17.5h-17.5zM664.8 798.7l8.8 17.5h-17.5zM658.8 798.1l8.8 17.5h-17.5zM652.7 799.6l8.8 17.5h-17.5zM646.7 798.3l8.8 17.5h-17.5zM640.7 797.9l8.8 17.5h-17.5zM634.6 798l8.8 17.5h-17.5zM628.6 799.2l8.8 17.5h-17.5zM622.6 799.6l8.8 17.5h-17.5zM616.5 801.8l8.8 17.5h-17.5zM610.5 799.8l8.8 17.5h-17.5zM604.5 801.6l8.8 17.5h-17.5zM598.5 799.5l8.8 17.5h-17.5zM592.4 800.8l8.8 17.5h-17.5zM586.4 801.3l8.8 17.5h-17.5zM580.4 799.8l8.8 17.5h-17.5zM574.3 803l8.8 17.5h-17.5zM568.3 802.9l8.8 17.5h-17.5zM562.3 800.2l8.8 17.5h-17.5zM556.2 800.4l8.8 17.5h-17.5zM550.2 800.2l8.8 17.5h-17.5zM544.2 802.6l8.8 17.5h-17.5zM538.2 801.8l8.8 17.5h-17.5zM532.1 804.5l8.8 17.5h-17.5zM526.1 802l8.8 17.5h-17.5zM520.1 801.6l8.8 17.5h-17.5zM514 803.4l8.8 17.5h-17.5zM508 801.9l8.8 17.5h-17.5zM502 803.6l8.8 17.5h-17.5zM495.9 800.6l8.8 17.5h-17.5zM489.9 803.2l8.8 17.5h-17.5zM483.9 801.8l8.8 17.5h-17.5zM477.9 802.2l8.8 17.5h-17.5zM471.8 804.9l8.8 17.5h-17.5zM465.8 803.3l8.8 17.5h-17.5zM459.8 800.9l8.8 17.5h-17.5zM453.7 804.4l8.8 17.5h-17.5zM447.7 802.5l8.8 17.5h-17.5zM441.7 807.3l8.8 17.5h-17.5zM435.6 805.3l8.8 17.5h-17.5zM429.6 805.2l8.8 17.5h-17.5zM423.6 806.1l8.8 17.5h-17.5zM417.6 803.4l8.8 17.5h-17.5zM411.5 809.1l8.8 17.5h-17.5zM405.5 808l8.8 17.5h-17.5zM399.5 808.7l8.8 17.5h-17.5zM393.4 806.4l8.8 17.5h-17.5zM387.4 807.1l8.8 17.5h-17.5zM381.4 804.4l8.8 17.5h-17.5zM375.3 806.9l8.8 17.5h-17.5zM369.3 804.7l8.8 17.5h-17.5zM363.3 806.4l8.8 17.5h-17.5zM357.3 809.1l8.8 17.5h-17.5zM351.2 808l8.8 17.5h-17.5zM345.2 805.6l8.8 17.5h-17.5zM339.2 806.1l8.8 17.5h-17.5zM333.1 809.2l8.8 17.5h-17.5zM327.1 807.6l8.8 17.5h-17.5zM321.1 808.9l8.8 17.5h-17.5zM315 810.5l8.8 17.5h-17.5zM309 805.5l8.8 17.5h-17.5zM303 808.9l8.8 17.5h-17.5zM297 809.9l8.8 17.5h-17.5zM290.9 807.1l8.8 17.5h-17.5zM284.9 806.3l8.8 17.5h-17.5zM278.9 808.9l8.8 17.5h-17.5zM272.8 806.9l8.8 17.5h-17.5zM266.8 808.9l8.8 17.5h-17.5zM260.8 807.3l8.8 17.5h-17.5zM254.7 810.4l8.8 17.5h-17.5zM248.7 808.2l8.8 17.5h-17.5zM242.7 812.5l8.8 17.5h-17.5zM236.7 811.4l8.8 17.5h-17.5zM230.6 809.7l8.8 17.5h-17.5zM224.6 811l8.8 17.5h-17.5zM218.6 811l8.8 17.5h-17.5zM212.5 808.8l8.8 17.5h-17.5zM206.5 808.8l8.8 17.5h-17.5zM200.5 810.2l8.8 17.5h-17.5zM194.4 811l8.8 17.5h-17.5zM188.4 808l8.8 17.5h-17.5zM182.4 812.4l8.8 17.5h-17.5zM176.4 812.4l8.8 17.5h-17.5z"/>
<path fill="none" stroke="#2a2a2e" stroke-width="2" d="M923.8 754.6l18.4 19.6m-18.4 0l18.4 -19.6"/>
<path fill="none" stroke="#58a7bf" stroke-width="1.4" stroke-opacity="0.8" d="M163.3 797.1l18.6 18.6m-18.6 0l18.6 -18.6m-9.3 0v18.6M169.3 797.6l18.6 18.6m-18.6 0l18.6 -18.6m-9.3 0v18.6M175.4 795.2l18.6 18.6m-18.6 0l18.6 -18.6m-9.3 0v18.6M181.4 797.3l18.6 18.6m-18.6 0l18.6 -18.6m-9.3 0v18.6M187.4 800.3l18.6 18.6m-18.6 0l18.6 -18.6m-9.3 0v18.6M193.4 798.6l18.6 18.6m-18.6 0l18.6 -18.6m-9.3 0v18.6M199.5 798.5l18.6 18.6m-18.6 0l18.6 -18.6m-9.3 0v18.6M205.5 798.4l18.6 18.6m-18.6 0l18.6 -18.6m-9.3 0v18.6M211.5 798.9l18.6 18.6m-18.6 0l18.6 -18.6m-9.3 0v18.6M217.6 800.8l18.6 18.6m-18.6 0l18.6 -18.6m-9.3 0v18.6M223.6 795l18.6 18.6m-18.6 0l18.6 -18.6m-9.3 0v18.6M229.6 794.8l18.6 18.6m-18.6 0l18.6 -18.6m-9.3 0v18.6M235.6 797.3l18.6 18.6m-18.6 0l18.6 -18.6m-9.3 0v18.6M241.7 797l18.6 18.6m-18.6 0l18.6 -18.6m-9.3 0v18.6M247.7 795.4l18.6 18.6m-18.6 0l18.6 -18.6m-9.3 0v18.6M253.7 791.9l18.6 18.6m-18.6 0l18.6 -18.6m-9.3 0v18.6M259.8 796.1l18.6 18.6m-18.6 0l18.6 -18.6m-9.3 0v18.6M265.8 792.1l18.6 18.6m-18.6 0l18.6 -18.6m-9.3 0v18.6M271.8 792l18.6 18.6m-18.6 0l18.6 -18.6m-9.3 0v18.6M277.8 789.6l18.6 18.6m-18.6 0l18.6 -18.6m-9.3 0v18.6M283.9 789.5l18.6 18.6m-18.6 0l18.6 -18.6m-9.3 0v18.6M289.9 791l18.6 18.6m-18.6 0l18.6 -18.6m-9.3 0v18.6M295.9 793.5l18.6 18.6m-18.6 0l18.6 -18.6m-9.3 0v18.6M302 789.7l18.6 18.6m-18.6 0l18.6 -18.6m-9.3 0v18.6M308 794.5l18.6 18.6m-18.6 0l18.6 -18.6m-9.3 0v18.6M314 790.3l18.6 18.6m-18.6 0l18.6 -18.6m-9.3 0v18.6M320 792.7l18.6 18.6m-18.6 0l18.6 -18.6m-9.3 0v18.6M326.1 790.7l18.6 18.6m-18.6 0l18.6 -18.6m-9.3 0v18.6M332.1 792.4l18.6 18.6m-18.6 0l18.6 -18.6m-9.3 0v18.6M338.1 791.3l18.6 18.6m-18.6 0l18.6 -18.6m-9.3 0v18.6M344.2 792.5l18.6 18.6m-18.6 0l18.6 -18.6m-9.3 0v18.6M350.2 793.9l18.6 18.6m-18.6 0l18.6 -18.6m-9.3 0v18.6M356.2 793.7l18.6 18.6m-18.6 0l18.6 -18.6m-9.3 0v18.6M362.2 789.3l18.6 18.6m-18.6 0l18.6 -18.6m-9.3 0v18.6M368.3 791.8l18.6 18.6m-18.6 0l18.6 -18.6m-9.3 0v18.6M374.3 790.1l18.6 18.6m-18.6 0l18.6 -18.6m-9.3 0v18.6M380.3 794.6l18.6 18.6m-18.6 0l18.6 -18.6m-9.3 0v18.6M386.4 790.3l18.6 18.6m-18.6 0l18.6 -18.6m-9.3 0v18.6M392.4 791.2l18.6 18.6m-18.6 0l18.6 -18.6m-9.3 0v18.6M398.4 788.9l18.6 18.6m-18.6 0l18.6 -18.6m-9.3 0v18.6M404.4 789.6l18.6 18.6m-18.6 0l18.6 -18.6m-9.3 0v18.6M410.5 788.3l18.6 18.6m-18.6 0l18.6 -18.6m-9.3 0v18.6M416.5 790.6l18.6 18.6m-18.6 0l18.6 -18.6m-9.3 0v18.6M422.5 792.8l18.6 18.6m-18.6 0l18.6 -18.6m-9.3 0v18.6M428.6 791.1l18.6 18.6m-18.6 0l18.6 -18.6m-9.3 0v18.6M434.6 792l18.6 18.6m-18.6 0l18.6 -18.6m-9.3 0v18.6M440.6 792.7l18.6 18.6m-18.6 0l18.6 -18.6m-9.3 0v18.6M446.6 789.3l18.6 18.6m-18.6 0l18.6 -18.6m-9.3 0v18.6M452.7 791.8l18.6 18.6m-18.6 0l18.6 -18.6m-9.3 0v18.6M458.7 790.9l18.6 18.6m-18.6 0l18.6 -18.6m-9.3 0v18.6M464.7 787.3l18.6 18.6m-18.6 0l18.6 -18.6m-9.3 0v18.6M470.8 786.6l18.6 18.6m-18.6 0l18.6 -18.6m-9.3 0v18.6M476.8 788.7l18.6 18.6m-18.6 0l18.6 -18.6m-9.3 0v18.6M482.8 786.5l18.6 18.6m-18.6 0l18.6 -18.6m-9.3 0v18.6M488.8 788.5l18.6 18.6m-18.6 0l18.6 -18.6m-9.3 0v18.6M494.9 787.1l18.6 18.6m-18.6 0l18.6 -18.6m-9.3 0v18.6M500.9 789.8l18.6 18.6m-18.6 0l18.6 -18.6m-9.3 0v18.6M506.9 789.9l18.6 18.6m-18.6 0l18.6 -18.6m-9.3 0v18.6M513 785.7l18.6 18.6m-18.6 0l18.6 -18.6m-9.3 0v18.6M519 788.2l18.6 18.6m-18.6 0l18.6 -18.6m-9.3 0v18.6M525 784.7l18.6 18.6m-18.6 0l18.6 -18.6m-9.3 0v18.6M531 782.3l18.6 18.6m-18.6 0l18.6 -18.6m-9.3 0v18.6M537.1 783.3l18.6 18.6m-18.6 0l18.6 -18.6m-9.3 0v18.6M543.1 786.7l18.6 18.6m-18.6 0l18.6 -18.6m-9.3 0v18.6M549.1 784.9l18.6 18.6m-18.6 0l18.6 -18.6m-9.3 0v18.6M555.2 785.3l18.6 18.6m-18.6 0l18.6 -18.6m-9.3 0v18.6M561.2 783.5l18.6 18.6m-18.6 0l18.6 -18.6m-9.3 0v18.6M567.2 784.9l18.6 18.6m-18.6 0l18.6 -18.6m-9.3 0v18.6M573.2 779.4l18.6 18.6m-18.6 0l18.6 -18.6m-9.3 0v18.6M579.3 780.6l18.6 18.6m-18.6 0l18.6 -18.6m-9.3 0v18.6M585.3 779.6l18.6 18.6m-18.6 0l18.6 -18.6m-9.3 0v18.6M591.3 779.5l18.6 18.6m-18.6 0l18.6 -18.6m-9.3 0v18.6M597.4 779.8l18.6 18.6m-18.6 0l18.6 -18.6m-9.3 0v18.6M603.4 775.9l18.6 18.6m-18.6 0l18.6 -18.6m-9.3 0v18.6M609.4 778.7l18.6 18.6m-18.6 0l18.6 -18.6m-9.3 0v18.6M615.4 776.4l18.6 18.6m-18.6 0l18.6 -18.6m-9.3 0v18.6M621.5 776.2l18.6 18.6m-18.6 0l18.6 -18.6m-9.3 0v18.6M627.5 777.1l18.6 18.6m-18.6 0l18.6 -18.6m-9.3 0v18.6M633.5 774.2l18.6 18.6m-18.6 0l18.6 -18.6m-9.3 0v18.6M639.6 774l18.6 18.6m-18.6 0l18.6 -18.6m-9.3 0v18.6M645.6 773.8l18.6 18.6m-18.6 0l18.6 -18.6m-9.3 0v18.6M651.6 771.9l18.6 18.6m-18.6 0l18.6 -18.6m-9.3 0v18.6M657.6 774.2l18.6 18.6m-18.6 0l18.6 -18.6m-9.3 0v18.6M663.7 772.6l18.6 18.6m-18.6 0l18.6 -18.6m-9.3 0v18.6M669.7 768.4l18.6 18.6m-18.6 0l18.6 -18.6m-9.3 0v18.6M675.7 772.6l18.6 18.6m-18.6 0l18.6 -18.6m-9.3 0v18.6M681.8 768l18.6 18.6m-18.6 0l18.6 -18.6m-9.3 0v18.6M687.8 769.7l18.6 18.6m-18.6 0l18.6 -18.6m-9.3 0v18.6M693.8 765.1l18.6 18.6m-18.6 0l18.6 -18.6m-9.3 0v18.6M699.8 765.6l18.6 18.6m-18.6 0l18.6 -18.6m-9.3 0v18.6M705.9 765.7l18.6 18.6m-18.6 0l18.6 -18.6m-9.3 0v18.6M711.9 766.7l18.6 18.6m-18.6 0l18.6 -18.6m-9.3 0v18.6M717.9 766.8l18.6 18.6m-18.6 0l18.6 -18.6m-9.3 0v18.6M724 760.5l18.6 18.6m-18.6 0l18.6 -18.6m-9.3 0v18.6M730 758.4l18.6 18.6m-18.6 0l18.6 -18.6m-9.3 0v18.6M736 757.4l18.6 18.6m-18.6 0l18.6 -18.6m-9.3 0v18.6M742 757.7l18.6 18.6m-18.6 0l18.6 -18.6m-9.3 0v18.6M748.1 754.5l18.6 18.6m-18.6 0l18.6 -18.6m-9.3 0v18.6M754.1 758.6l18.6 18.6m-18.6 0l18.6 -18.6m-9.3 0v18.6M760.1 756.3l18.6 18.6m-18.6 0l18.6 -18.6m-9.3 0v18.6M766.2 753.6l18.6 18.6m-18.6 0l18.6 -18.6m-9.3 0v18.6M772.2 751.3l18.6 18.6m-18.6 0l18.6 -18.6m-9.3 0v18.6M778.2 749.5l18.6 18.6m-18.6 0l18.6 -18.6m-9.3 0v18.6M784.2 749.3l18.6 18.6m-18.6 0l18.6 -18.6m-9.3 0v18.6M790.3 752.8l18.6 18.6m-18.6 0l18.6 -18.6m-9.3 0v18.6M796.3 746.4l18.6 18.6m-18.6 0l18.6 -18.6m-9.3 0v18.6M802.3 750.9l18.6 18.6m-18.6 0l18.6 -18.6m-9.3 0v18.6M808.4 747l18.6 18.6m-18.6 0l18.6 -18.6m-9.3 0v18.6M814.4 747.3l18.6 18.6m-18.6 0l18.6 -18.6m-9.3 0v18.6M820.4 744.5l18.6 18.6m-18.6 0l18.6 -18.6m-9.3 0v18.6M826.4 743.5l18.6 18.6m-18.6 0l18.6 -18.6m-9.3 0v18.6M832.5 743.4l18.6 18.6m-18.6 0l18.6 -18.6m-9.3 0v18.6M838.5 742.9l18.6 18.6m-18.6 0l18.6 -18.6m-9.3 0v18.6M844.5 742.3l18.6 18.6m-18.6 0l18.6 -18.6m-9.3 0v18.6M850.6 741.3l18.6 18.6m-18.6 0l18.6 -18.6m-9.3 0v18.6M856.6 737.7l18.6 18.6m-18.6 0l18.6 -18.6m-9.3 0v18.6M862.6 736.6l18.6 18.6m-18.6 0l18.6 -18.6m-9.3 0v18.6M868.6 733.4l18.6 18.6m-18.6 0l18.6 -18.6m-9.3 0v18.6M874.7 730.3l18.6 18.6m-18.6 0l18.6 -18.6m-9.3 0v18.6M880.7 728.5l18.6 18.6m-18.6 0l18.6 -18.6m-9.3 0v18.6M886.7 726.6l18.6 18.6m-18.6 0l18.6 -18.6m-9.3 0v18.6M892.8 724.4l18.6 18.6m-18.6 0l18.6 -18.6m-9.3 0v18.6M898.8 722.2l18.6 18.6m-18.6 0l18.6 -18.6m-9.3 0v18.6M904.8 720.7l18.6 18.6m-18.6 0l18.6 -18.6m-9.3 0v18.6M910.8 717.1l18.6 18.6m-18.6 0l18.6 -18.6m-9.3 0v18.6M916.9 717.7l18.6 18.6m-18.6 0l18.6 -18.6m-9.3 0v18.6M922.9 711.5l18.6 18.6m-18.6 0l18.6 -18.6m-9.3 0v18.6M928.9 709.8l18.6 18.6m-18.6 0l18.6 -18.6m-9.3 0v18.6M935 707.2l18.6 18.6m-18.6 0l18.6 -18.6m-9.3 0v18.6M941 702.2l18.6 18.6m-18.6 0l18.6 -18.6m-9.3 0v18.6M947.2 698.4l18.6 18.6m-18.6 0l18.6 -18.6m-9.3 0v18.6M953.3 694.6l18.6 18.6m-18.6 0l18.6 -18.6m-9.3 0v18.6M959.5 688.7l18.6 18.6m-18.6 0l18.6 -18.6m-9.3 0v18.6M965.7 686.8l18.6 18.6m-18.6 0l18.6 -18.6m-9.3 0v18.6M971.9 677.5l18.6 18.6m-18.6 0l18.6 -18.6m-9.3 0v18.6M978.2 673.4l18.6 18.6m-18.6 0l18.6 -18.6m-9.3 0v18.6M984.4 667.3l18.6 18.6m-18.6 0l18.6 -18.6m-9.3 0v18.6M990.7 664.4l18.6 18.6m-18.6 0l18.6 -18.6m-9.3 0v18.6M996.9 658.5l18.6 18.6m-18.6 0l18.6 -18.6m-9.3 0v18.6M1003.1 653l18.6 18.6m-18.6 0l18.6 -18.6m-9.3 0v18.6M1009.3 644.9l18.6 18.6m-18.6 0l18.6 -18.6m-9.3 0v18.6M1015.5 637.5l18.6 18.6m-18.6 0l18.6 -18.6m-9.3 0v18.6M1021.6 627.4l18.6 18.6m-18.6 0l18.6 -18.6m-9.3 0v18.6M1027.8 619.7l18.6 18.6m-18.6 0l18.6 -18.6m-9.3 0v18.6M1033.8 608.7l18.6 18.6m-18.6 0l18.6 -18.6m-9.3 0v18.6M1039.8 593.4l18.6 18.6m-18.6 0l18.6 -18.6m-9.3 0v18.6M1045.9 581.7l18.6 18.6m-18.6 0l18.6 -18.6m-9.3 0v18.6M1051.9 564.2l18.6 18.6m-18.6 0l18.6 -18.6m-9.3 0v18.6M1057.9 550.2l18.6 18.6m-18.6 0l18.6 -18.6m-9.3 0v18.6M1064 535.8l18.6 18.6m-18.6 0l18.6 -18.6m-9.3 0v18.6M1070 518.1l18.6 18.6m-18.6 0l18.6 -18.6m-9.3 0v18.6M1076 500.8l18.6 18.6m-18.6 0l18.6 -18.6m-9.3 0v18.6M1082.1 482.2l18.6 18.6m-18.6 0l18.6 -18.6m-9.3 0v18.6M1088.2 458.6l18.6 18.6m-18.6 0l18.6 -18.6m-9.3 0v18.6M1094.3 438l18.6 18.6m-18.6 0l18.6 -18.6m-9.3 0v18.6M1100.5 410.6l18.6 18.6m-18.6 0l18.6 -18.6m-9.3 0v18.6M1106.7 380.9l18.6 18.6m-18.6 0l18.6 -18.6m-9.3 0v18.6M1112.8 353.4l18.6 18.6m-18.6 0l18.6 -18.6m-9.3 0v18.6M1118.8 319.7l18.6 18.6m-18.6 0l18.6 -18.6m-9.3 0v18.6M1124.8 279.8l18.6 18.6m-18.6 0l18.6 -18.6m-9.3 0v18.6M1130.9 247.8l18.6 18.6m-18.6 0l18.6 -18.6m-9.3 0v18.6M1139.3 212.5l18.6 18.6m-18.6 0l18.6 -18.6m-9.3 0v18.6M1140.9 258.2l18.6 18.6m-18.6 0l18.6 -18.6m-9.3 0v18.6M1132.6 443.9l18.6 18.6m-18.6 0l18.6 -18.6m-9.3 0v18.6M1124.7 593.7l18.6 18.6m-18.6 0l18.6 -18.6m-9.3 0v18.6M1118.1 683.4l18.6 18.6m-18.6 0l18.6 -18.6m-9.3 0v18.6M1112.1 735.7l18.6 18.6m-18.6 0l18.6 -18.6m-9.3 0v18.6M1106.7 771.7l18.6 18.6m-18.6 0l18.6 -18.6m-9.3 0v18.6M1099.7 801.8l18.6 18.6m-18.6 0l18.6 -18.6m-9.3 0v18.6M1093.7 805.3l18.6 18.6m-18.6 0l18.6 -18.6m-9.3 0v18.6M1087.6 808.6l18.6 18.6m-18.6 0l18.6 -18.6m-9.3 0v18.6M1081.6 808.9l18.6 18.6m-18.6 0l18.6 -18.6m-9.3 0v18.6M1075.6 811.4l18.6 18.6m-18.6 0l18.6 -18.6m-9.3 0v18.6M1069.6 811.7l18.6 18.6m-18.6 0l18.6 -18.6m-9.3 0v18.6M1063.5 806.7l18.6 18.6m-18.6 0l18.6 -18.6m-9.3 0v18.6M1057.5 808.5l18.6 18.6m-18.6 0l18.6 -18.6m-9.3 0v18.6M1051.5 806.3l18.6 18.6m-18.6 0l18.6 -18.6m-9.3 0v18.6M1045.4 799.5l18.6 18.6m-18.6 0l18.6 -18.6m-9.3 0v18.6M1039.4 802.4l18.6 18.6m-18.6 0l18.6 -18.6m-9.3 0v18.6M1033.4 800.4l18.6 18.6m-18.6 0l18.6 -18.6m-9.3 0v18.6M1027.3 798.7l18.6 18.6m-18.6 0l18.6 -18.6m-9.3 0v18.6M1021.3 793.3l18.6 18.6m-18.6 0l18.6 -18.6m-9.3 0v18.6M1015.3 791.4l18.6 18.6m-18.6 0l18.6 -18.6m-9.3 0v18.6M1009.3 791.8l18.6 18.6m-18.6 0l18.6 -18.6m-9.3 0v18.6M1003.2 788l18.6 18.6m-18.6 0l18.6 -18.6m-9.3 0v18.6M997.2 787.2l18.6 18.6m-18.6 0l18.6 -18.6m-9.3 0v18.6M991.2 789.2l18.6 18.6m-18.6 0l18.6 -18.6m-9.3 0v18.6M985.1 786.9l18.6 18.6m-18.6 0l18.6 -18.6m-9.3 0v18.6M979.1 786.7l18.6 18.6m-18.6 0l18.6 -18.6m-9.3 0v18.6M973.1 789l18.6 18.6m-18.6 0l18.6 -18.6m-9.3 0v18.6M967 791.3l18.6 18.6m-18.6 0l18.6 -18.6m-9.3 0v18.6M961 786.1l18.6 18.6m-18.6 0l18.6 -18.6m-9.3 0v18.6M955 789.1l18.6 18.6m-18.6 0l18.6 -18.6m-9.3 0v18.6M949 788.6l18.6 18.6m-18.6 0l18.6 -18.6m-9.3 0v18.6M942.9 789l18.6 18.6m-18.6 0l18.6 -18.6m-9.3 0v18.6M936.9 788.2l18.6 18.6m-18.6 0l18.6 -18.6m-9.3 0v18.6M930.9 787.3l18.6 18.6m-18.6 0l18.6 -18.6m-9.3 0v18.6M924.8 791.9l18.6 18.6m-18.6 0l18.6 -18.6m-9.3 0v18.6M918.8 790.5l18.6 18.6m-18.6 0l18.6 -18.6m-9.3 0v18.6M912.8 791.8l18.6 18.6m-18.6 0l18.6 -18.6m-9.3 0v18.6M906.7 790.2l18.6 18.6m-18.6 0l18.6 -18.6m-9.3 0v18.6M900.7 788.4l18.6 18.6m-18.6 0l18.6 -18.6m-9.3 0v18.6M894.7 789.1l18.6 18.6m-18.6 0l18.6 -18.6m-9.3 0v18.6M888.7 788.7l18.6 18.6m-18.6 0l18.6 -18.6m-9.3 0v18.6M882.6 791.1l18.6 18.6m-18.6 0l18.6 -18.6m-9.3 0v18.6M876.6 788.6l18.6 18.6m-18.6 0l18.6 -18.6m-9.3 0v18.6M870.6 793.4l18.6 18.6m-18.6 0l18.6 -18.6m-9.3 0v18.6M864.5 793.3l18.6 18.6m-18.6 0l18.6 -18.6m-9.3 0v18.6M858.5 791.1l18.6 18.6m-18.6 0l18.6 -18.6m-9.3 0v18.6M852.5 795.5l18.6 18.6m-18.6 0l18.6 -18.6m-9.3 0v18.6M846.4 792.7l18.6 18.6m-18.6 0l18.6 -18.6m-9.3 0v18.6M840.4 794.2l18.6 18.6m-18.6 0l18.6 -18.6m-9.3 0v18.6M834.4 792.1l18.6 18.6m-18.6 0l18.6 -18.6m-9.3 0v18.6M828.4 795.8l18.6 18.6m-18.6 0l18.6 -18.6m-9.3 0v18.6M822.3 789.8l18.6 18.6m-18.6 0l18.6 -18.6m-9.3 0v18.6M816.3 794.1l18.6 18.6m-18.6 0l18.6 -18.6m-9.3 0v18.6M810.3 791.5l18.6 18.6m-18.6 0l18.6 -18.6m-9.3 0v18.6M804.2 789l18.6 18.6m-18.6 0l18.6 -18.6m-9.3 0v18.6M798.2 793.5l18.6 18.6m-18.6 0l18.6 -18.6m-9.3 0v18.6M792.2 792.3l18.6 18.6m-18.6 0l18.6 -18.6m-9.3 0v18.6M786.1 792.2l18.6 18.6m-18.6 0l18.6 -18.6m-9.3 0v18.6M780.1 787.3l18.6 18.6m-18.6 0l18.6 -18.6m-9.3 0v18.6M774.1 792.7l18.6 18.6m-18.6 0l18.6 -18.6m-9.3 0v18.6M768.1 787.2l18.6 18.6m-18.6 0l18.6 -18.6m-9.3 0v18.6M762 789.8l18.6 18.6m-18.6 0l18.6 -18.6m-9.3 0v18.6M756 791.8l18.6 18.6m-18.6 0l18.6 -18.6m-9.3 0v18.6M750 788.5l18.6 18.6m-18.6 0l18.6 -18.6m-9.3 0v18.6M743.9 787.6l18.6 18.6m-18.6 0l18.6 -18.6m-9.3 0v18.6M737.9 791.9l18.6 18.6m-18.6 0l18.6 -18.6m-9.3 0v18.6M731.9 791.6l18.6 18.6m-18.6 0l18.6 -18.6m-9.3 0v18.6M725.8 789.9l18.6 18.6m-18.6 0l18.6 -18.6m-9.3 0v18.6M719.8 794.2l18.6 18.6m-18.6 0l18.6 -18.6m-9.3 0v18.6M713.8 790l18.6 18.6m-18.6 0l18.6 -18.6m-9.3 0v18.6M707.8 795.4l18.6 18.6m-18.6 0l18.6 -18.6m-9.3 0v18.6M701.7 794.5l18.6 18.6m-18.6 0l18.6 -18.6m-9.3 0v18.6M695.7 793.6l18.6 18.6m-18.6 0l18.6 -18.6m-9.3 0v18.6M689.7 798.6l18.6 18.6m-18.6 0l18.6 -18.6m-9.3 0v18.6M683.6 798.6l18.6 18.6m-18.6 0l18.6 -18.6m-9.3 0v18.6M677.6 795.9l18.6 18.6m-18.6 0l18.6 -18.6m-9.3 0v18.6M671.6 797l18.6 18.6m-18.6 0l18.6 -18.6m-9.3 0v18.6M665.5 796.7l18.6 18.6m-18.6 0l18.6 -18.6m-9.3 0v18.6M659.5 798.2l18.6 18.6m-18.6 0l18.6 -18.6m-9.3 0v18.6M653.5 797.3l18.6 18.6m-18.6 0l18.6 -18.6m-9.3 0v18.6M647.5 799l18.6 18.6m-18.6 0l18.6 -18.6m-9.3 0v18.6M641.4 798.8l18.6 18.6m-18.6 0l18.6 -18.6m-9.3 0v18.6M635.4 798.9l18.6 18.6m-18.6 0l18.6 -18.6m-9.3 0v18.6M629.4 799.3l18.6 18.6m-18.6 0l18.6 -18.6m-9.3 0v18.6M623.3 796.1l18.6 18.6m-18.6 0l18.6 -18.6m-9.3 0v18.6M617.3 796.9l18.6 18.6m-18.6 0l18.6 -18.6m-9.3 0v18.6M611.3 796.4l18.6 18.6m-18.6 0l18.6 -18.6m-9.3 0v18.6M605.2 797.5l18.6 18.6m-18.6 0l18.6 -18.6m-9.3 0v18.6M599.2 800l18.6 18.6m-18.6 0l18.6 -18.6m-9.3 0v18.6M593.2 796.9l18.6 18.6m-18.6 0l18.6 -18.6m-9.3 0v18.6M587.2 800.6l18.6 18.6m-18.6 0l18.6 -18.6m-9.3 0v18.6M581.1 797.2l18.6 18.6m-18.6 0l18.6 -18.6m-9.3 0v18.6M575.1 798.5l18.6 18.6m-18.6 0l18.6 -18.6m-9.3 0v18.6M569.1 801.3l18.6 18.6m-18.6 0l18.6 -18.6m-9.3 0v18.6M563 800.3l18.6 18.6m-18.6 0l18.6 -18.6m-9.3 0v18.6M557 801.2l18.6 18.6m-18.6 0l18.6 -18.6m-9.3 0v18.6M551 802.6l18.6 18.6m-18.6 0l18.6 -18.6m-9.3 0v18.6M544.9 799.4l18.6 18.6m-18.6 0l18.6 -18.6m-9.3 0v18.6M538.9 801.7l18.6 18.6m-18.6 0l18.6 -18.6m-9.3 0v18.6M532.9 804.5l18.6 18.6m-18.6 0l18.6 -18.6m-9.3 0v18.6M526.9 801.7l18.6 18.6m-18.6 0l18.6 -18.6m-9.3 0v18.6M520.8 804l18.6 18.6m-18.6 0l18.6 -18.6m-9.3 0v18.6M514.8 799.3l18.6 18.6m-18.6 0l18.6 -18.6m-9.3 0v18.6M508.8 803.5l18.6 18.6m-18.6 0l18.6 -18.6m-9.3 0v18.6M502.7 800.1l18.6 18.6m-18.6 0l18.6 -18.6m-9.3 0v18.6M496.7 802.8l18.6 18.6m-18.6 0l18.6 -18.6m-9.3 0v18.6M490.7 801.9l18.6 18.6m-18.6 0l18.6 -18.6m-9.3 0v18.6M484.6 800.1l18.6 18.6m-18.6 0l18.6 -18.6m-9.3 0v18.6M478.6 802.3l18.6 18.6m-18.6 0l18.6 -18.6m-9.3 0v18.6M472.6 803.9l18.6 18.6m-18.6 0l18.6 -18.6m-9.3 0v18.6M466.6 803.8l18.6 18.6m-18.6 0l18.6 -18.6m-9.3 0v18.6M460.5 803.9l18.6 18.6m-18.6 0l18.6 -18.6m-9.3 0v18.6M454.5 805.6l18.6 18.6m-18.6 0l18.6 -18.6m-9.3 0v18.6M448.5 803.7l18.6 18.6m-18.6 0l18.6 -18.6m-9.3 0v18.6M442.4 801.3l18.6 18.6m-18.6 0l18.6 -18.6m-9.3 0v18.6M436.4 802.9l18.6 18.6m-18.6 0l18.6 -18.6m-9.3 0v18.6M430.4 803l18.6 18.6m-18.6 0l18.6 -18.6m-9.3 0v18.6M424.3 804l18.6 18.6m-18.6 0l18.6 -18.6m-9.3 0v18.6M418.3 800.8l18.6 18.6m-18.6 0l18.6 -18.6m-9.3 0v18.6M412.3 805.1l18.6 18.6m-18.6 0l18.6 -18.6m-9.3 0v18.6M406.3 804.8l18.6 18.6m-18.6 0l18.6 -18.6m-9.3 0v18.6M400.2 800.3l18.6 18.6m-18.6 0l18.6 -18.6m-9.3 0v18.6M394.2 805.1l18.6 18.6m-18.6 0l18.6 -18.6m-9.3 0v18.6M388.2 805.2l18.6 18.6m-18.6 0l18.6 -18.6m-9.3 0v18.6M382.1 801.9l18.6 18.6m-18.6 0l18.6 -18.6m-9.3 0v18.6M376.1 804.6l18.6 18.6m-18.6 0l18.6 -18.6m-9.3 0v18.6M370.1 801.4l18.6 18.6m-18.6 0l18.6 -18.6m-9.3 0v18.6M364 802.2l18.6 18.6m-18.6 0l18.6 -18.6m-9.3 0v18.6M358 804.5l18.6 18.6m-18.6 0l18.6 -18.6m-9.3 0v18.6M352 804.5l18.6 18.6m-18.6 0l18.6 -18.6m-9.3 0v18.6M346 806.1l18.6 18.6m-18.6 0l18.6 -18.6m-9.3 0v18.6M339.9 803.7l18.6 18.6m-18.6 0l18.6 -18.6m-9.3 0v18.6M333.9 804.1l18.6 18.6m-18.6 0l18.6 -18.6m-9.3 0v18.6M327.9 808.2l18.6 18.6m-18.6 0l18.6 -18.6m-9.3 0v18.6M321.8 807.7l18.6 18.6m-18.6 0l18.6 -18.6m-9.3 0v18.6M315.8 806l18.6 18.6m-18.6 0l18.6 -18.6m-9.3 0v18.6M309.8 807.3l18.6 18.6m-18.6 0l18.6 -18.6m-9.3 0v18.6M303.7 811.4l18.6 18.6m-18.6 0l18.6 -18.6m-9.3 0v18.6M297.7 810.5l18.6 18.6m-18.6 0l18.6 -18.6m-9.3 0v18.6M291.7 810.8l18.6 18.6m-18.6 0l18.6 -18.6m-9.3 0v18.6M285.7 811.4l18.6 18.6m-18.6 0l18.6 -18.6m-9.3 0v18.6M279.6 806.7l18.6 18.6m-18.6 0l18.6 -18.6m-9.3 0v18.6M273.6 810.5l18.6 18.6m-18.6 0l18.6 -18.6m-9.3 0v18.6M267.6 811.3l18.6 18.6m-18.6 0l18.6 -18.6m-9.3 0v18.6M261.5 810.7l18.6 18.6m-18.6 0l18.6 -18.6m-9.3 0v18.6M255.5 806.4l18.6 18.6m-18.6 0l18.6 -18.6m-9.3 0v18.6M249.5 805.2l18.6 18.6m-18.6 0l18.6 -18.6m-9.3 0v18.6M243.4 810.2l18.6 18.6m-18.6 0l18.6 -18.6m-9.3 0v18.6M237.4 809.9l18.6 18.6m-18.6 0l18.6 -18.6m-9.3 0v18.6M231.4 807.4l18.6 18.6m-18.6 0l18.6 -18.6m-9.3 0v18.6M225.4 806.8l18.6 18.6m-18.6 0l18.6 -18.6m-9.3 0v18.6M219.3 805.4l18.6 18.6m-18.6 0l18.6 -18.6m-9.3 0v18.6M213.3 807.1l18.6 18.6m-18.6 0l18.6 -18.6m-9.3 0v18.6M207.3 809.1l18.6 18.6m-18.6 0l18.6 -18.6m-9.3 0v18.6M201.2 807l18.6 18.6m-18.6 0l18.6 -18.6m-9.3 0v18.6M195.2 808l18.6 18.6m-18.6 0l18.6 -18.6m-9.3 0v18.6M189.2 809.7l18.6 18.6m-18.6 0l18.6 -18.6m-9.3 0v18.6M183.1 805.3l18.6 18.6m-18.6 0l18.6 -18.6m-9.3 0v18.6M177.1 809.2l18.6 18.6m-18.6 0l18.6 -18.6m-9.3 0v18.6M171.1 810.5l18.6 18.6m-18.6 0l18.6 -18.6m-9.3 0v18.6M165.1 810.4l18.6 18.6m-18.6 0l18.6 -18.6m-9.3 0v18.6"/>
<path fill="#dd853a" d="M162 805a9 9 0 1 0 18 0a9 9 0 1 0 -18 0zM168 804.1a9 9 0 1 0 18 0a9 9 0 1 0 -18 0zM174.1 803.7a9 9 0 1 0 18 0a9 9 0 1 0 -18 0zM180.1 803.4a9 9 0 1 0 18 0a9 9 0 1 0 -18 0zM186.1 805.4a9 9 0 1 0 18 0a9 9 0 1 0 -18 0zM192.1 805.2a9 9 0 1 0 18 0a9 9 0 1 0 -18 0zM198.2 801.4a9 9 0 1 0 18 0a9 9 0 1 0 -18 0zM204.2 805.3a9 9 0 1 0 18 0a9 9 0 1 0 -18 0zM210.2 801.4a9 9 0 1 0 18 0a9 9 0 1 0 -18 0zM216.3 802.5a9 9 0 1 0 18 0a9 9 0 1 0 -18 0zM222.3 800.7a9 9 0 1 0 18 0a9 9 0 1 0 -18 0zM228.3 802.9a9 9 0 1 0 18 0a9 9 0 1 0 -18 0zM234.3 800.2a9 9 0 1 0 18 0a9 9 0 1 0 -18 0zM240.4 800.1a9 9 0 1 0 18 0a9 9 0 1 0 -18 0zM246.4 804.7a9 9 0 1 0 18 0a9 9 0 1 0 -18 0zM252.4 804a9 9 0 1 0 18 0a9 9 0 1 0 -18 0zM258.5 802.6a9 9 0 1 0 18 0a9 9 0 1 0 -18 0zM264.5 800a9 9 0 1 0 18 0a9 9 0 1 0 -18 0zM270.5 802a9 9 0 1 0 18 0a9 9 0 1 0 -18 0zM276.5 801.6a9 9 0 1 0 18 0a9 9 0 1 0 -18 0zM282.6 800a9 9 0 1 0 18 0a9 9 0 1 0 -18 0zM288.6 801.1a9 9 0 1 0 18 0a9 9 0 1 0 -18 0zM294.6 800.5a9 9 0 1 0 18 0a9 9 0 1 0 -18 0zM300.7 802.1a9 9 0 1 0 18 0a9 9 0 1 0 -18 0zM306.7 801.5a9 9 0 1 0 18 0a9 9 0 1 0 -18 0zM312.7 800.7a9 9 0 1 0 18 0a9 9 0 1 0 -18 0zM318.7 801.1a9 9 0 1 0 18 0a9 9 0 1 0 -18 0zM324.8 801.8a9 9 0 1 0 18 0a9 9 0 1 0 -18 0zM330.8 800.1a9 9 0 1 0 18 0a9 9 0 1 0 -18 0zM336.8 800.2a9 9 0 1 0 18 0a9 9 0 1 0 -18 0zM342.9 798.8a9 9 0 1 0 18 0a9 9 0 1 0 -18 0zM348.9 800.8a9 9 0 1 0 18 0a9 9 0 1 0 -18 0zM354.9 801.8a9 9 0 1 0 18 0a9 9 0 1 0 -18 0zM360.9 799.9a9 9 0 1 0 18 0a9 9 0 1 0 -18 0zM367 801.1a9 9 0 1 0 18 0a9 9 0 1 0 -18 0zM373 799.1a9 9 0 1 0 18 0a9 9 0 1 0 -18 0zM379 800.2a9 9 0 1 0 18 0a9 9 0 1 0 -18 0zM385.1 801a9 9 0 1 0 18 0a9 9 0 1 0 -18 0zM391.1 798a9 9 0 1 0 18 0a9 9 0 1 0 -18 0zM397.1 801.9a9 9 0 1 0 18 0a9 9 0 1 0 -18 0zM403.1 799.2a9 9 0 1 0 18 0a9 9 0 1 0 -18 0zM409.2 800.3a9 9 0 1 0 18 0a9 9 0 1 0 -18 0zM415.2 797.8a9 9 0 1 0 18 0a9 9 0 1 0 -18 0zM421.2 796.8a9 9 0 1 0 18 0a9 9 0 1 0 -18 0zM427.3 798.5a9 9 0 1 0 18 0a9 9 0 1 0 -18 0zM433.3 798.1a9 9 0 1 0 18 0a9 9 0 1 0 -18 0zM439.3 796.4a9 9 0 1 0 18 0a9 9 0 1 0 -18 0zM445.3 795.2a9 9 0 1 0 18 0a9 9 0 1 0 -18 0zM451.4 799.7a9 9 0 1 0 18 0a9 9 0 1 0 -18 0zM457.4 796.7a9 9 0 1 0 18 0a9 9 0 1 0 -18 0zM463.4 798.9a9 9 0 1 0 18 0a9 9 0 1 0 -18 0zM469.5 796.4a9 9 0 1 0 18 0a9 9 0 1 0 -18 0zM475.5 794.8a9 9 0 1 0 18 0a9 9 0 1 0 -18 0zM481.5 794.7a9 9 0 1 0 18 0a9 9 0 1 0 -18 0zM487.5 792.5a9 9 0 1 0 18 0a9 9 0 1 0 -18 0zM493.6 793.4a9 9 0 1 0 18 0a9 9 0 1 0 -18 0zM499.6 791.9a9 9 0 1 0 18 0a9 9 0 1 0 -18 0zM505.6 793.3a9 9 0 1 0 18 0a9 9 0 1 0 -18 0zM511.7 794a9 9 0 1 0 18 0a9 9 0 1 0 -18 0zM517.7 794.1a9 9 0 1 0 18 0a9 9 0 1 0 -18 0zM523.7 790.8a9 9 0 1 0 18 0a9 9 0 1 0 -18 0zM529.7 791.4a9 9 0 1 0 18 0a9 9 0 1 0 -18 0zM535.8 792.5a9 9 0 1 0 18 0a9 9 0 1 0 -18 0zM541.8 789.6a9 9 0 1 0 18 0a9 9 0 1 0 -18 0zM547.8 789.8a9 9 0 1 0 18 0a9 9 0 1 0 -18 0zM553.9 789.4a9 9 0 1 0 18 0a9 9 0 1 0 -18 0zM559.9 790a9 9 0 1 0 18 0a9 9 0 1 0 -18 0zM565.9 788.1a9 9 0 1 0 18 0a9 9 0 1 0 -18 0zM571.9 789.9a9 9 0 1 0 18 0a9 9 0 1 0 -18 0zM578 790.5a9 9 0 1 0 18 0a9 9 0 1 0 -18 0zM584 785.3a9 9 0 1 0 18 0a9 9 0 1 0 -18 0zM590 788a9 9 0 1 0 18 0a9 9 0 1 0 -18 0zM596.1 784.5a9 9 0 1 0 18 0a9 9 0 1 0 -18 0zM602.1 788.4a9 9 0 1 0 18 0a9 9 0 1 0 -18 0zM608.1 783.5a9 9 0 1 0 18 0a9 9 0 1 0 -18 0zM614.1 787.9a9 9 0 1 0 18 0a9 9 0 1 0 -18 0zM620.2 782.9a9 9 0 1 0 18 0a9 9 0 1 0 -18 0zM626.2 783.5a9 9 0 1 0 18 0a9 9 0 1 0 -18 0zM632.2 782.6a9 9 0 1 0 18 0a9 9 0 1 0 -18 0zM638.3 782.6a9 9 0 1 0 18 0a9 9 0 1 0 -18 0zM644.3 782a9 9 0 1 0 18 0a9 9 0 1 0 -18 0zM650.3 783.3a9 9 0 1 0 18 0a9 9 0 1 0 -18 0zM656.3 778.2a9 9 0 1 0 18 0a9 9 0 1 0 -18 0zM662.4 781.4a9 9 0 1 0 18 0a9 9 0 1 0 -18 0zM668.4 779.8a9 9 0 1 0 18 0a9 9 0 1 0 -18 0zM674.4 778.6a9 9 0 1 0 18 0a9 9 0 1 0 -18 0zM680.5 775.7a9 9 0 1 0 18 0a9 9 0 1 0 -18 0zM686.5 774.2a9 9 0 1 0 18 0a9 9 0 1 0 -18 0zM692.5 773.4a9 9 0 1 0 18 0a9 9 0 1 0 -18 0zM698.5 775.5a9 9 0 1 0 18 0a9 9 0 1 0 -18 0zM704.6 770.2a9 9 0 1 0 18 0a9 9 0 1 0 -18 0zM710.6 773.6a9 9 0 1 0 18 0a9 9 0 1 0 -18 0zM716.6 770.3a9 9 0 1 0 18 0a9 9 0 1 0 -18 0zM722.7 770.5a9 9 0 1 0 18 0a9 9 0 1 0 -18 0zM728.7 770.5a9 9 0 1 0 18 0a9 9 0 1 0 -18 0zM734.7 768.2a9 9 0 1 0 18 0a9 9 0 1 0 -18 0zM740.7 765.5a9 9 0 1 0 18 0a9 9 0 1 0 -18 0zM746.8 763.8a9 9 0 1 0 18 0a9 9 0 1 0 -18 0zM752.8 766.2a9 9 0 1 0 18 0a9 9 0 1 0 -18 0zM758.8 761.7a9 9 0 1 0 18 0a9 9 0 1 0 -18 0zM764.9 763.2a9 9 0 1 0 18 0a9 9 0 1 0 -18 0zM770.9 764.2a9 9 0 1 0 18 0a9 9 0 1 0 -18 0zM776.9 761.5a9 9 0 1 0 18 0a9 9 0 1 0 -18 0zM782.9 763.2a9 9 0 1 0 18 0a9 9 0 1 0 -18 0zM789 757.7a9 9 0 1 0 18 0a9 9 0 1 0 -18 0zM795 755.9a9 9 0 1 0 18 0a9 9 0 1 0 -18 0zM801 758.7a9 9 0 1 0 18 0a9 9 0 1 0 -18 0zM807.1 755.2a9 9 0 1 0 18 0a9 9 0 1 0 -18 0zM813.1 752.8a9 9 0 1 0 18 0a9 9 0 1 0 -18 0zM819.1 754a9 9 0 1 0 18 0a9 9 0 1 0 -18 0zM825.1 752.1a9 9 0 1 0 18 0a9 9 0 1 0 -18 0zM831.2 748.4a9 9 0 1 0 18 0a9 9 0 1 0 -18 0zM837.2 746.9a9 9 0 1 0 18 0a9 9 0 1 0 -18 0zM843.2 747.1a9 9 0 1 0 18 0a9 9 0 1 0 -18 0zM849.3 744.8a9 9 0 1 0 18 0a9 9 0 1 0 -18 0zM855.3 744.7a9 9 0 1 0 18 0a9 9 0 1 0 -18 0zM861.3 741.4a9 9 0 1 0 18 0a9 9 0 1 0 -18 0zM867.3 736.5a9 9 0 1 0 18 0a9 9 0 1 0 -18 0zM873.4 734.1a9 9 0 1 0 18 0a9 9 0 1 0 -18 0zM879.4 735.5a9 9 0 1 0 18 0a9 9 0 1 0 -18 0zM885.4 732.8a9 9 0 1 0 18 0a9 9 0 1 0 -18 0zM891.5 731.9a9 9 0 1 0 18 0a9 9 0 1 0 -18 0zM897.5 728.8a9 9 0 1 0 18 0a9 9 0 1 0 -18 0zM903.5 728.1a9 9 0 1 0 18 0a9 9 0 1 0 -18 0zM909.5 728.4a9 9 0 1 0 18 0a9 9 0 1 0 -18 0zM915.6 721.7a9 9 0 1 0 18 0a9 9 0 1 0 -18 0zM921.6 722.5a9 9 0 1 0 18 0a9 9 0 1 0 -18 0zM927.6 717.4a9 9 0 1 0 18 0a9 9 0 1 0 -18 0zM933.7 714.9a9 9 0 1 0 18 0a9 9 0 1 0 -18 0zM939.7 710.5a9 9 0 1 0 18 0a9 9 0 1 0 -18 0zM945.7 703.1a9 9 0 1 0 18 0a9 9 0 1 0 -18 0zM951.7 700.8a9 9 0 1 0 18 0a9 9 0 1 0 -18 0zM957.8 695.5a9 9 0 1 0 18 0a9 9 0 1 0 -18 0zM963.8 691a9 9 0 1 0 18 0a9 9 0 1 0 -18 0zM969.8 687.8a9 9 0 1 0 18 0a9 9 0 1 0 -18 0zM975.9 682.2a9 9 0 1 0 18 0a9 9 0 1 0 -18 0zM981.9 677.4a9 9 0 1 0 18 0a9 9 0 1 0 -18 0zM987.9 671.8a9 9 0 1 0 18 0a9 9 0 1 0 -18 0zM993.9 665.2a9 9 0 1 0 18 0a9 9 0 1 0 -18 0zM1000 659.4a9 9 0 1 0 18 0a9 9 0 1 0 -18 0zM1006 653a9 9 0 1 0 18 0a9 9 0 1 0 -18 0zM1012 645.1a9 9 0 1 0 18 0a9 9 0 1 0 -18 0zM1018.1 633.7a9 9 0 1 0 18 0a9 9 0 1 0 -18 0zM1024.1 625.9a9 9 0 1 0 18 0a9 9 0 1 0 -18 0zM1030.1 613.1a9 9 0 1 0 18 0a9 9 0 1 0 -18 0zM1036.1 603.1a9 9 0 1 0 18 0a9 9 0 1 0 -18 0zM1042.2 585.3a9 9 0 1 0 18 0a9 9 0 1 0 -18 0zM1048.2 576a9 9 0 1 0 18 0a9 9 0 1 0 -18 0zM1054.2 555.7a9 9 0 1 0 18 0a9 9 0 1 0 -18 0zM1060.3 543.5a9 9 0 1 0 18 0a9 9 0 1 0 -18 0zM1066.3 525.3a9 9 0 1 0 18 0a9 9 0 1 0 -18 0zM1072.3 507.2a9 9 0 1 0 18 0a9 9 0 1 0 -18 0zM1078.3 485.9a9 9 0 1 0 18 0a9 9 0 1 0 -18 0zM1084.4 466.6a9 9 0 1 0 18 0a9 9 0 1 0 -18 0zM1090.4 444.3a9 9 0 1 0 18 0a9 9 0 1 0 -18 0zM1096.4 415.8a9 9 0 1 0 18 0a9 9 0 1 0 -18 0zM1102.5 384.7a9 9 0 1 0 18 0a9 9 0 1 0 -18 0zM1108.5 357a9 9 0 1 0 18 0a9 9 0 1 0 -18 0zM1114.5 323.8a9 9 0 1 0 18 0a9 9 0 1 0 -18 0zM1120.5 284.3a9 9 0 1 0 18 0a9 9 0 1 0 -18 0zM1126.6 251.9a9 9 0 1 0 18 0a9 9 0 1 0 -18 0zM1132.6 204.3a9 9 0 1 0 18 0a9 9 0 1 0 -18 0zM1133.5 299.5a9 9 0 1 0 18 0a9 9 0 1 0 -18 0zM1131.4 511.7a9 9 0 1 0 18 0a9 9 0 1 0 -18 0zM1124 638.5a9 9 0 1 0 18 0a9 9 0 1 0 -18 0zM1118.2 719.3a9 9 0 1 0 18 0a9 9 0 1 0 -18 0zM1112.1 761.5a9 9 0 1 0 18 0a9 9 0 1 0 -18 0zM1106.4 792.5a9 9 0 1 0 18 0a9 9 0 1 0 -18 0zM1101 808.6a9 9 0 1 0 18 0a9 9 0 1 0 -18 0zM1095 813.1a9 9 0 1 0 18 0a9 9 0 1 0 -18 0zM1088.9 817.1a9 9 0 1 0 18 0a9 9 0 1 0 -18 0zM1082.9 813.1a9 9 0 1 0 18 0a9 9 0 1 0 -18 0zM1076.9 815.2a9 9 0 1 0 18 0a9 9 0 1 0 -18 0zM1070.9 816.4a9 9 0 1 0 18 0a9 9 0 1 0 -18 0zM1064.8 812.8a9 9 0 1 0 18 0a9 9 0 1 0 -18 0zM1058.8 813.5a9 9 0 1 0 18 0a9 9 0 1 0 -18 0zM1052.8 812.4a9 9 0 1 0 18 0a9 9 0 1 0 -18 0zM1046.7 808.7a9 9 0 1 0 18 0a9 9 0 1 0 -18 0zM1040.7 805.8a9 9 0 1 0 18 0a9 9 0 1 0 -18 0zM1034.7 803.5a9 9 0 1 0 18 0a9 9 0 1 0 -18 0zM1028.6 803a9 9 0 1 0 18 0a9 9 0 1 0 -18 0zM1022.6 803.3a9 9 0 1 0 18 0a9 9 0 1 0 -18 0zM1016.6 803.6a9 9 0 1 0 18 0a9 9 0 1 0 -18 0zM1010.6 801a9 9 0 1 0 18 0a9 9 0 1 0 -18 0zM1004.5 800.6a9 9 0 1 0 18 0a9 9 0 1 0 -18 0zM998.5 799.9a9 9 0 1 0 18 0a9 9 0 1 0 -18 0zM992.5 796.4a9 9 0 1 0 18 0a9 9 0 1 0 -18 0zM986.4 796.5a9 9 0 1 0 18 0a9 9 0 1 0 -18 0zM980.4 796.2a9 9 0 1 0 18 0a9 9 0 1 0 -18 0zM974.4 800a9 9 0 1 0 18 0a9 9 0 1 0 -18 0zM968.3 797.1a9 9 0 1 0 18 0a9 9 0 1 0 -18 0zM962.3 797.5a9 9 0 1 0 18 0a9 9 0 1 0 -18 0zM956.3 799.5a9 9 0 1 0 18 0a9 9 0 1 0 -18 0zM950.3 799.8a9 9 0 1 0 18 0a9 9 0 1 0 -18 0zM944.2 799.6a9 9 0 1 0 18 0a9 9 0 1 0 -18 0zM938.2 797.8a9 9 0 1 0 18 0a9 9 0 1 0 -18 0zM932.2 798.7a9 9 0 1 0 18 0a9 9 0 1 0 -18 0zM926.1 796.4a9 9 0 1 0 18 0a9 9 0 1 0 -18 0zM920.1 796.9a9 9 0 1 0 18 0a9 9 0 1 0 -18 0zM914.1 799.8a9 9 0 1 0 18 0a9 9 0 1 0 -18 0zM908 798.9a9 9 0 1 0 18 0a9 9 0 1 0 -18 0zM902 798.7a9 9 0 1 0 18 0a9 9 0 1 0 -18 0zM896 796.2a9 9 0 1 0 18 0a9 9 0 1 0 -18 0zM890 800.8a9 9 0 1 0 18 0a9 9 0 1 0 -18 0zM883.9 797.7a9 9 0 1 0 18 0a9 9 0 1 0 -18 0zM877.9 798.9a9 9 0 1 0 18 0a9 9 0 1 0 -18 0zM871.9 798.8a9 9 0 1 0 18 0a9 9 0 1 0 -18 0zM865.8 801.3a9 9 0 1 0 18 0a9 9 0 1 0 -18 0zM859.8 797.3a9 9 0 1 0 18 0a9 9 0 1 0 -18 0zM853.8 798.5a9 9 0 1 0 18 0a9 9 0 1 0 -18 0zM847.7 799.6a9 9 0 1 0 18 0a9 9 0 1 0 -18 0zM841.7 798.8a9 9 0 1 0 18 0a9 9 0 1 0 -18 0zM835.7 801.5a9 9 0 1 0 18 0a9 9 0 1 0 -18 0zM829.7 799.6a9 9 0 1 0 18 0a9 9 0 1 0 -18 0zM823.6 797.3a9 9 0 1 0 18 0a9 9 0 1 0 -18 0zM817.6 799.2a9 9 0 1 0 18 0a9 9 0 1 0 -18 0zM811.6 799.4a9 9 0 1 0 18 0a9 9 0 1 0 -18 0zM805.5 799.4a9 9 0 1 0 18 0a9 9 0 1 0 -18 0zM799.5 800.9a9 9 0 1 0 18 0a9 9 0 1 0 -18 0zM793.5 802.1a9 9 0 1 0 18 0a9 9 0 1 0 -18 0zM787.4 800.6a9 9 0 1 0 18 0a9 9 0 1 0 -18 0zM781.4 801.7a9 9 0 1 0 18 0a9 9 0 1 0 -18 0zM775.4 801.2a9 9 0 1 0 18 0a9 9 0 1 0 -18 0zM769.4 799.6a9 9 0 1 0 18 0a9 9 0 1 0 -18 0zM763.3 799.1a9 9 0 1 0 18 0a9 9 0 1 0 -18 0zM757.3 799.3a9 9 0 1 0 18 0a9 9 0 1 0 -18 0zM751.3 798.9a9 9 0 1 0 18 0a9 9 0 1 0 -18 0zM745.2 800.5a9 9 0 1 0 18 0a9 9 0 1 0 -18 0zM739.2 802.7a9 9 0 1 0 18 0a9 9 0 1 0 -18 0zM733.2 802.3a9 9 0 1 0 18 0a9 9 0 1 0 -18 0zM727.1 799.6a9 9 0 1 0 18 0a9 9 0 1 0 -18 0zM721.1 802a9 9 0 1 0 18 0a9 9 0 1 0 -18 0zM715.1 804.3a9 9 0 1 0 18 0a9 9 0 1 0 -18 0zM709.1 803a9 9 0 1 0 18 0a9 9 0 1 0 -18 0zM703 800.8a9 9 0 1 0 18 0a9 9 0 1 0 -18 0zM697 804.5a9 9 0 1 0 18 0a9 9 0 1 0 -18 0zM691 806.6a9 9 0 1 0 18 0a9 9 0 1 0 -18 0zM684.9 804.9a9 9 0 1 0 18 0a9 9 0 1 0 -18 0zM678.9 805a9 9 0 1 0 18 0a9 9 0 1 0 -18 0zM672.9 804.4a9 9 0 1 0 18 0a9 9 0 1 0 -18 0zM666.8 806.3a9 9 0 1 0 18 0a9 9 0 1 0 -18 0zM660.8 804.4a9 9 0 1 0 18 0a9 9 0 1 0 -18 0zM654.8 808.5a9 9 0 1 0 18 0a9 9 0 1 0 -18 0zM648.8 807.4a9 9 0 1 0 18 0a9 9 0 1 0 -18 0zM642.7 808.2a9 9 0 1 0 18 0a9 9 0 1 0 -18 0zM636.7 806.2a9 9 0 1 0 18 0a9 9 0 1 0 -18 0zM630.7 806.7a9 9 0 1 0 18 0a9 9 0 1 0 -18 0zM624.6 807.8a9 9 0 1 0 18 0a9 9 0 1 0 -18 0zM618.6 806.9a9 9 0 1 0 18 0a9 9 0 1 0 -18 0zM612.6 809a9 9 0 1 0 18 0a9 9 0 1 0 -18 0zM606.5 807.4a9 9 0 1 0 18 0a9 9 0 1 0 -18 0zM600.5 806.3a9 9 0 1 0 18 0a9 9 0 1 0 -18 0zM594.5 810.8a9 9 0 1 0 18 0a9 9 0 1 0 -18 0zM588.5 810.6a9 9 0 1 0 18 0a9 9 0 1 0 -18 0zM582.4 808.6a9 9 0 1 0 18 0a9 9 0 1 0 -18 0zM576.4 809.6a9 9 0 1 0 18 0a9 9 0 1 0 -18 0zM570.4 809.7a9 9 0 1 0 18 0a9 9 0 1 0 -18 0zM564.3 809.7a9 9 0 1 0 18 0a9 9 0 1 0 -18 0zM558.3 810.7a9 9 0 1 0 18 0a9 9 0 1 0 -18 0zM552.3 809.2a9 9 0 1 0 18 0a9 9 0 1 0 -18 0zM546.2 811.4a9 9 0 1 0 18 0a9 9 0 1 0 -18 0zM540.2 809.3a9 9 0 1 0 18 0a9 9 0 1 0 -18 0zM534.2 810a9 9 0 1 0 18 0a9 9 0 1 0 -18 0zM528.2 808.1a9 9 0 1 0 18 0a9 9 0 1 0 -18 0zM522.1 809.3a9 9 0 1 0 18 0a9 9 0 1 0 -18 0zM516.1 809.5a9 9 0 1 0 18 0a9 9 0 1 0 -18 0zM510.1 807.7a9 9 0 1 0 18 0a9 9 0 1 0 -18 0zM504 810.6a9 9 0 1 0 18 0a9 9 0 1 0 -18 0zM498 809.4a9 9 0 1 0 18 0a9 9 0 1 0 -18 0zM492 812.6a9 9 0 1 0 18 0a9 9 0 1 0 -18 0zM485.9 809a9 9 0 1 0 18 0a9 9 0 1 0 -18 0zM479.9 813.1a9 9 0 1 0 18 0a9 9 0 1 0 -18 0zM473.9 809.6a9 9 0 1 0 18 0a9 9 0 1 0 -18 0zM467.9 813.2a9 9 0 1 0 18 0a9 9 0 1 0 -18 0zM461.8 811.8a9 9 0 1 0 18 0a9 9 0 1 0 -18 0zM455.8 810.6a9 9 0 1 0 18 0a9 9 0 1 0 -18 0zM449.8 812.9a9 9 0 1 0 18 0a9 9 0 1 0 -18 0zM443.7 812.3a9 9 0 1 0 18 0a9 9 0 1 0 -18 0zM437.7 810.9a9 9 0 1 0 18 0a9 9 0 1 0 -18 0zM431.7 813.8a9 9 0 1 0 18 0a9 9 0 1 0 -18 0zM425.6 809.9a9 9 0 1 0 18 0a9 9 0 1 0 -18 0zM419.6 813.8a9 9 0 1 0 18 0a9 9 0 1 0 -18 0zM413.6 812.3a9 9 0 1 0 18 0a9 9 0 1 0 -18 0zM407.6 813.3a9 9 0 1 0 18 0a9 9 0 1 0 -18 0zM401.5 812.2a9 9 0 1 0 18 0a9 9 0 1 0 -18 0zM395.5 814.3a9 9 0 1 0 18 0a9 9 0 1 0 -18 0zM389.5 811.7a9 9 0 1 0 18 0a9 9 0 1 0 -18 0zM383.4 815.8a9 9 0 1 0 18 0a9 9 0 1 0 -18 0zM377.4 814.9a9 9 0 1 0 18 0a9 9 0 1 0 -18 0zM371.4 812.7a9 9 0 1 0 18 0a9 9 0 1 0 -18 0zM365.3 812.1a9 9 0 1 0 18 0a9 9 0 1 0 -18 0zM359.3 814.3a9 9 0 1 0 18 0a9 9 0 1 0 -18 0zM353.3 814.8a9 9 0 1 0 18 0a9 9 0 1 0 -18 0zM347.3 814.9a9 9 0 1 0 18 0a9 9 0 1 0 -18 0zM341.2 816.2a9 9 0 1 0 18 0a9 9 0 1 0 -18 0zM335.2 817a9 9 0 1 0 18 0a9 9 0 1 0 -18 0zM329.2 812.2a9 9 0 1 0 18 0a9 9 0 1 0 -18 0zM323.1 816.6a9 9 0 1 0 18 0a9 9 0 1 0 -18 0zM317.1 813.5a9 9 0 1 0 18 0a9 9 0 1 0 -18 0zM311.1 815.5a9 9 0 1 0 18 0a9 9 0 1 0 -18 0zM305 812.9a9 9 0 1 0 18 0a9 9 0 1 0 -18 0zM299 814.7a9 9 0 1 0 18 0a9 9 0 1 0 -18 0zM293 814.9a9 9 0 1 0 18 0a9 9 0 1 0 -18 0zM287 818.1a9 9 0 1 0 18 0a9 9 0 1 0 -18 0zM280.9 813.9a9 9 0 1 0 18 0a9 9 0 1 0 -18 0zM274.9 814.3a9 9 0 1 0 18 0a9 9 0 1 0 -18 0zM268.9 813.7a9 9 0 1 0 18 0a9 9 0 1 0 -18 0zM262.8 813.9a9 9 0 1 0 18 0a9 9 0 1 0 -18 0zM256.8 815.3a9 9 0 1 0 18 0a9 9 0 1 0 -18 0zM250.8 818.2a9 9 0 1 0 18 0a9 9 0 1 0 -18 0zM244.7 816.2a9 9 0 1 0 18 0a9 9 0 1 0 -18 0zM238.7 814.4a9 9 0 1 0 18 0a9 9 0 1 0 -18 0zM232.7 816a9 9 0 1 0 18 0a9 9 0 1 0 -18 0zM226.7 814.6a9 9 0 1 0 18 0a9 9 0 1 0 -18 0zM220.6 818.2a9 9 0 1 0 18 0a9 9 0 1 0 -18 0zM214.6 815.6a9 9 0 1 0 18 0a9 9 0 1 0 -18 0zM208.6 816.9a9 9 0 1 0 18 0a9 9 0 1 0 -18 0zM202.5 818.8a9 9 0 1 0 18 0a9 9 0 1 0 -18 0zM196.5 817a9 9 0 1 0 18 0a9 9 0 1 0 -18 0zM190.5 819.1a9 9 0 1 0 18 0a9 9 0 1 0 -18 0zM184.4 819.5a9 9 0 1 0 18 0a9 9 0 1 0 -18 0zM178.4 817.4a9 9 0 1 0 18 0a9 9 0 1 0 -18 0zM172.4 817.3a9 9 0 1 0 18 0a9 9 0 1 0 -18 0zM166.4 819.4a9 9 0 1 0 18 0a9 9 0 1 0 -18 0z"/>
</g>
<path stroke="#000" stroke-width="5.4" fill="none" d="M162.3 829.9H1345.2"/>
<g>
<path fill="#4174b5" d="M1245.1 89.8l8.2 8.1l-8.2 8.1l-8.2 -8.1z"/>
<rect x="1236.8" y="125" width="15.8" height="14.8" fill="#b5403e"/>
<path fill="#7da546" d="M1245 163.6l8.4 16h-16.8z"/>
<path fill="none" stroke="#2a2a2e" stroke-width="1.7" d="M1236.2 198.9l19.6 19.2m-19.6 0l19.6 -19.2"/>
<path fill="none" stroke="#58a7bf" stroke-width="1.5" stroke-opacity=".75" d="M1236.2 237.4l19.4 18.8m-19.4 0l19.4 -18.8M1245.8 237.4v18.8"/>
<circle cx="1245.3" cy="281.6" r="7.7" fill="#dd853a"/>
</g>
<g font-family="'Liberation Sans', Arial, Helvetica, sans-serif" font-weight="bold" fill="#000" stroke="#fff" stroke-width="0.5" stroke-linejoin="round">
<g font-size="30.5" stroke-width="0.3">
<text x="1267" y="109.4">c1</text>
<text x="1267" y="145.6">c2</text>
<text x="1267" y="181.2">c3</text>
<text x="1267" y="216.4">c4</text>
<text x="1267" y="253.0">c5</text>
<text x="1267" y="289.6">c6</text>
</g>
<g font-size="54" text-anchor="middle">
<text x="112.5" y="71.0">12</text>
<text x="113" y="201.7">10</text>
<text x="117.8" y="324.5">8</text>
<text x="114.0" y="457.7">6</text>
<text x="114.2" y="579.2">4</text>
<text x="117.8" y="713.5">2</text>
<text x="118.0" y="834.8">0</text>
</g>
<g font-size="54" text-anchor="middle">
<text x="183.7" y="903.2">0.0</text>
<text x="376.0" y="903.2">0.1</text>
<text x="563.0" y="901.2">0.2</text>
<text x="756.7" y="899.3">0.3</text>
<text x="951.0" y="898.6">0.4</text>
<text x="1149.2" y="897.6">0.5</text>
<text x="1346.0" y="894.8">0.6</text>
</g>
<text x="765" y="958.2" font-size="57.5" text-anchor="middle" stroke="none">Strain</text>
<text transform="translate(75.4 591.2) rotate(-91.06)" font-size="58.3" stroke="none">Stress <tspan x="188" font-size="57.3">(kPa)</tspan></text>
</g>
</g>
</svg>
</body>
</html>
